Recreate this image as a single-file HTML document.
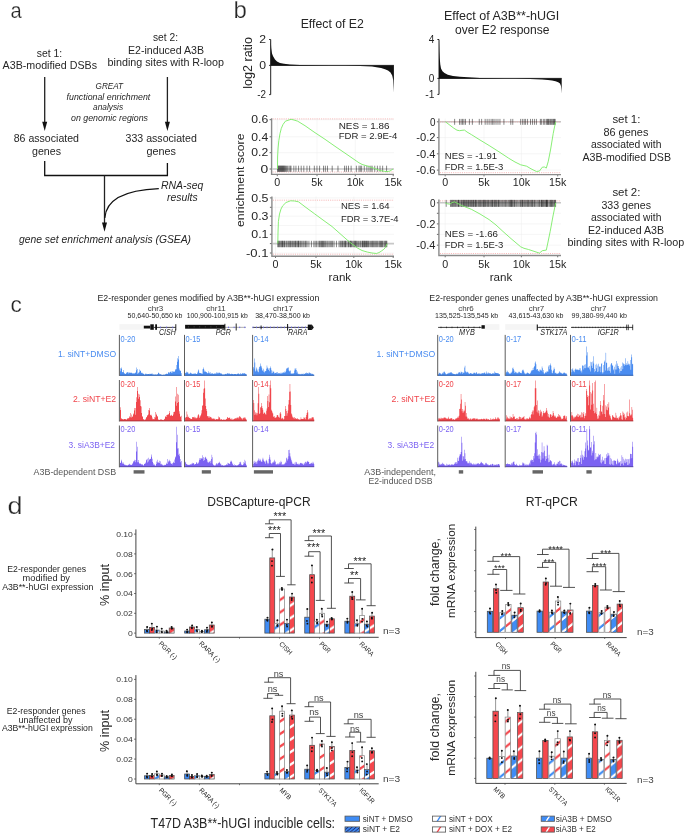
<!DOCTYPE html>
<html><head><meta charset="utf-8"><title>figure</title><style>html,body{margin:0;padding:0;background:#fff;width:685px;height:833px;overflow:hidden}svg{display:block;font-family:"Liberation Sans",sans-serif;will-change:transform;opacity:0.999}</style></head><body>
<svg width="685" height="833" viewBox="0 0 685 833" font-family="Liberation Sans, sans-serif" fill="#262626">
<style>.t{}.tb{stroke:#fff;stroke-width:0.25px}</style>
<defs><pattern id="pbdt" patternUnits="userSpaceOnUse" width="40" height="12.5" patternTransform="skewY(-33.4)"><rect width="40" height="12.5" fill="#ffffff"/><rect y="8.15" width="40" height="2.8" fill="#3f8cf5"/></pattern><pattern id="prdt" patternUnits="userSpaceOnUse" width="40" height="12.5" patternTransform="skewY(-33.4)"><rect width="40" height="12.5" fill="#ffffff"/><rect y="8.15" width="40" height="2.8" fill="#f5474d"/></pattern><pattern id="bwdt" patternUnits="userSpaceOnUse" width="40" height="12.5" patternTransform="skewY(-33.4)"><rect width="40" height="12.5" fill="#3f8cf5"/><rect y="8.15" width="40" height="2.8" fill="#ffffff"/></pattern><pattern id="rwdt" patternUnits="userSpaceOnUse" width="40" height="12.5" patternTransform="skewY(-33.4)"><rect width="40" height="12.5" fill="#f5474d"/><rect y="8.15" width="40" height="2.8" fill="#ffffff"/></pattern><pattern id="pbdb" patternUnits="userSpaceOnUse" width="40" height="12.5" patternTransform="skewY(-33.4)"><rect width="40" height="12.5" fill="#ffffff"/><rect y="4.70" width="40" height="2.8" fill="#3f8cf5"/></pattern><pattern id="prdb" patternUnits="userSpaceOnUse" width="40" height="12.5" patternTransform="skewY(-33.4)"><rect width="40" height="12.5" fill="#ffffff"/><rect y="4.70" width="40" height="2.8" fill="#f5474d"/></pattern><pattern id="bwdb" patternUnits="userSpaceOnUse" width="40" height="12.5" patternTransform="skewY(-33.4)"><rect width="40" height="12.5" fill="#3f8cf5"/><rect y="4.70" width="40" height="2.8" fill="#ffffff"/></pattern><pattern id="rwdb" patternUnits="userSpaceOnUse" width="40" height="12.5" patternTransform="skewY(-33.4)"><rect width="40" height="12.5" fill="#f5474d"/><rect y="4.70" width="40" height="2.8" fill="#ffffff"/></pattern><pattern id="pbrt" patternUnits="userSpaceOnUse" width="40" height="12.8" patternTransform="skewY(-38.7)"><rect width="40" height="12.8" fill="#ffffff"/><rect y="6.10" width="40" height="2.8" fill="#3f8cf5"/></pattern><pattern id="prrt" patternUnits="userSpaceOnUse" width="40" height="12.8" patternTransform="skewY(-38.7)"><rect width="40" height="12.8" fill="#ffffff"/><rect y="6.10" width="40" height="2.8" fill="#f5474d"/></pattern><pattern id="bwrt" patternUnits="userSpaceOnUse" width="40" height="12.8" patternTransform="skewY(-38.7)"><rect width="40" height="12.8" fill="#3f8cf5"/><rect y="6.10" width="40" height="2.8" fill="#ffffff"/></pattern><pattern id="rwrt" patternUnits="userSpaceOnUse" width="40" height="12.8" patternTransform="skewY(-38.7)"><rect width="40" height="12.8" fill="#f5474d"/><rect y="6.10" width="40" height="2.8" fill="#ffffff"/></pattern><pattern id="pbrb" patternUnits="userSpaceOnUse" width="40" height="12.8" patternTransform="skewY(-38.7)"><rect width="40" height="12.8" fill="#ffffff"/><rect y="11.50" width="40" height="2.8" fill="#3f8cf5"/><rect y="-1.30" width="40" height="2.8" fill="#3f8cf5"/></pattern><pattern id="prrb" patternUnits="userSpaceOnUse" width="40" height="12.8" patternTransform="skewY(-38.7)"><rect width="40" height="12.8" fill="#ffffff"/><rect y="11.50" width="40" height="2.8" fill="#f5474d"/><rect y="-1.30" width="40" height="2.8" fill="#f5474d"/></pattern><pattern id="bwrb" patternUnits="userSpaceOnUse" width="40" height="12.8" patternTransform="skewY(-38.7)"><rect width="40" height="12.8" fill="#3f8cf5"/><rect y="11.50" width="40" height="2.8" fill="#ffffff"/><rect y="-1.30" width="40" height="2.8" fill="#ffffff"/></pattern><pattern id="rwrb" patternUnits="userSpaceOnUse" width="40" height="12.8" patternTransform="skewY(-38.7)"><rect width="40" height="12.8" fill="#f5474d"/><rect y="11.50" width="40" height="2.8" fill="#ffffff"/><rect y="-1.30" width="40" height="2.8" fill="#ffffff"/></pattern><pattern id="lnavy" patternUnits="userSpaceOnUse" width="40" height="3.4" patternTransform="skewY(-40)"><rect width="40" height="3.4" fill="#3f8cf5"/><rect y="0.00" width="40" height="1.1" fill="#1a2a70"/></pattern><pattern id="lpb" patternUnits="userSpaceOnUse" width="40" height="30" patternTransform="skewY(-58)"><rect width="40" height="30" fill="#ffffff"/><rect y="19.79" width="40" height="2.6" fill="#3f8cf5"/></pattern><pattern id="lpr" patternUnits="userSpaceOnUse" width="40" height="30" patternTransform="skewY(-58)"><rect width="40" height="30" fill="#ffffff"/><rect y="0.59" width="40" height="2.6" fill="#f5474d"/></pattern><pattern id="lbw" patternUnits="userSpaceOnUse" width="40" height="30" patternTransform="skewY(-58)"><rect width="40" height="30" fill="#3f8cf5"/><rect y="14.06" width="40" height="2.6" fill="#ffffff"/></pattern><pattern id="lrw" patternUnits="userSpaceOnUse" width="40" height="30" patternTransform="skewY(-58)"><rect width="40" height="30" fill="#f5474d"/><rect y="24.86" width="40" height="2.6" fill="#ffffff"/></pattern></defs>
<rect width="685" height="833" fill="#ffffff"/>
<text x="10.60" y="17.80" font-size="22" textLength="11.20" lengthAdjust="spacingAndGlyphs" class="tb" >a</text>
<text x="36.80" y="57.00" font-size="10.4" textLength="25.40" lengthAdjust="spacingAndGlyphs" >set 1:</text>
<text x="2.60" y="69.30" font-size="10.4" textLength="94.40" lengthAdjust="spacingAndGlyphs" >A3B-modified DSBs</text>
<text x="153.00" y="40.80" font-size="10.4" textLength="25.00" lengthAdjust="spacingAndGlyphs" >set 2:</text>
<text x="128.00" y="53.50" font-size="10.4" textLength="76.00" lengthAdjust="spacingAndGlyphs" >E2-induced A3B</text>
<text x="107.60" y="65.80" font-size="10.4" textLength="116.40" lengthAdjust="spacingAndGlyphs" >binding sites with R-loop</text>
<text x="95.60" y="88.80" font-size="8.8" textLength="27.50" lengthAdjust="spacingAndGlyphs" font-style="italic" >GREAT</text>
<text x="66.60" y="99.60" font-size="8.8" textLength="83.70" lengthAdjust="spacingAndGlyphs" font-style="italic" >functional enrichment</text>
<text x="93.00" y="110.00" font-size="8.8" textLength="30.10" lengthAdjust="spacingAndGlyphs" font-style="italic" >analysis</text>
<text x="71.00" y="120.50" font-size="8.8" textLength="77.00" lengthAdjust="spacingAndGlyphs" font-style="italic" >on genomic regions</text>
<line x1="44.70" y1="77.00" x2="44.70" y2="123.00" stroke="#222" stroke-width="1.3" />
<path d="M42.20,121.8 L47.20,121.8 L44.70,131.0 Z" fill="#111" stroke="none" stroke-width="1" />
<line x1="167.40" y1="77.00" x2="167.40" y2="123.00" stroke="#222" stroke-width="1.3" />
<path d="M164.90,121.8 L169.90,121.8 L167.40,131.0 Z" fill="#111" stroke="none" stroke-width="1" />
<text x="13.70" y="142.40" font-size="10.4" textLength="65.30" lengthAdjust="spacingAndGlyphs" >86 associated</text>
<text x="32.00" y="155.00" font-size="10.4" textLength="29.00" lengthAdjust="spacingAndGlyphs" >genes</text>
<text x="125.60" y="142.40" font-size="10.4" textLength="71.20" lengthAdjust="spacingAndGlyphs" >333 associated</text>
<text x="146.50" y="155.00" font-size="10.4" textLength="29.50" lengthAdjust="spacingAndGlyphs" >genes</text>
<path d="M44.7,161 L44.7,175.5 L167.4,175.5 L167.4,163" fill="none" stroke="#111" stroke-width="1.3" />
<line x1="104.50" y1="175.50" x2="104.50" y2="224.00" stroke="#222" stroke-width="1.3" />
<path d="M102.0,222.6 L107.0,222.6 L104.5,231.8 Z" fill="#111" stroke="none" stroke-width="1" />
<path d="M158.8,188.6 C125,190 106,200 104.8,218" fill="none" stroke="#111" stroke-width="1.2" />
<text x="161.00" y="188.70" font-size="10.3" textLength="42.40" lengthAdjust="spacingAndGlyphs" font-style="italic" >RNA-seq</text>
<text x="167.00" y="200.60" font-size="10.3" textLength="30.70" lengthAdjust="spacingAndGlyphs" font-style="italic" >results</text>
<text x="19.00" y="243.00" font-size="10.3" textLength="172.00" lengthAdjust="spacingAndGlyphs" font-style="italic" >gene set enrichment analysis (GSEA)</text>
<text x="233.50" y="17.80" font-size="23.2" textLength="13.40" lengthAdjust="spacingAndGlyphs" class="tb" >b</text>
<text x="300.70" y="28.40" font-size="12.4" textLength="63.20" lengthAdjust="spacingAndGlyphs" class="t" >Effect of E2</text>
<text x="444.00" y="19.90" font-size="12.4" textLength="115.30" lengthAdjust="spacingAndGlyphs" class="t" >Effect of A3B**-hUGI</text>
<text x="455.00" y="33.90" font-size="12.4" textLength="94.50" lengthAdjust="spacingAndGlyphs" class="t" >over E2 response</text>
<text class="t" x="0" y="0" font-size="12.6" textLength="51.7" lengthAdjust="spacingAndGlyphs" transform="translate(251.9 88.8) rotate(-90)">log2 ratio</text>
<text class="t" x="0" y="0" font-size="11" textLength="93.3" lengthAdjust="spacingAndGlyphs" transform="translate(243.9 226.9) rotate(-90)">enrichment score</text>
<path d="M269.10,39.50 L270.70,39.50 L270.70,94.60 L269.10,94.60" fill="none" stroke="#222" stroke-width="1" />
<line x1="269.10" y1="65.40" x2="270.70" y2="65.40" stroke="#222" stroke-width="1" />
<text x="259.30" y="43.10" font-size="10.4" textLength="6.80" lengthAdjust="spacingAndGlyphs" >2</text>
<text x="259.30" y="69.00" font-size="10.4" textLength="6.80" lengthAdjust="spacingAndGlyphs" >0</text>
<text x="257.30" y="98.20" font-size="10.4" textLength="8.80" lengthAdjust="spacingAndGlyphs" >-2</text>
<path d="M270.70,65.40 L270.70,40.00 L271.20,48.00 L272.00,53.50 L273.10,56.20 L275.00,59.60 L277.00,61.50 L280.00,62.90 L284.00,63.80 L290.00,64.40 L300.00,64.90 L315.00,65.20 L330.00,65.40 L345.00,65.40 L360.00,65.90 L372.00,66.60 L378.00,67.40 L381.10,68.10 L385.00,69.30 L388.00,70.60 L390.50,72.60 L392.20,75.50 L393.20,80.00 L393.60,87.00 L393.90,92.60 L393.90,65.40 Z" fill="#111" stroke="none" stroke-width="1" />
<line x1="270.70" y1="65.40" x2="393.90" y2="65.40" stroke="#111" stroke-width="0.9" />
<path d="M437.40,39.50 L439.00,39.50 L439.00,94.40 L437.40,94.40" fill="none" stroke="#222" stroke-width="1" />
<line x1="437.40" y1="78.40" x2="439.00" y2="78.40" stroke="#222" stroke-width="1" />
<text x="428.80" y="43.10" font-size="10.4" textLength="5.60" lengthAdjust="spacingAndGlyphs" >4</text>
<text x="428.80" y="82.00" font-size="10.4" textLength="5.60" lengthAdjust="spacingAndGlyphs" >0</text>
<text x="425.20" y="97.80" font-size="10.4" textLength="9.20" lengthAdjust="spacingAndGlyphs" >-1</text>
<path d="M439.00,78.40 L439.00,40.00 L439.30,50.00 L439.70,58.00 L440.30,64.50 L441.00,68.50 L442.50,71.30 L444.50,73.00 L447.80,74.70 L453.00,75.90 L460.00,76.70 L468.00,77.30 L480.00,77.90 L495.00,78.30 L505.00,78.40 L515.00,78.40 L530.00,78.90 L542.00,79.50 L548.00,80.00 L552.00,80.60 L555.50,81.30 L558.20,82.30 L560.00,83.60 L561.00,86.00 L561.40,89.50 L561.70,93.40 L561.70,78.40 Z" fill="#111" stroke="none" stroke-width="1" />
<line x1="439.00" y1="78.40" x2="561.70" y2="78.40" stroke="#111" stroke-width="0.9" />
<line x1="271.60" y1="119.70" x2="394.00" y2="119.70" stroke="#ececec" stroke-width="0.5" />
<line x1="271.60" y1="136.80" x2="394.00" y2="136.80" stroke="#ececec" stroke-width="0.5" />
<line x1="271.60" y1="152.70" x2="394.00" y2="152.70" stroke="#ececec" stroke-width="0.5" />
<line x1="271.60" y1="169.00" x2="394.00" y2="169.00" stroke="#ececec" stroke-width="0.5" />
<line x1="277.30" y1="118.20" x2="277.30" y2="174.40" stroke="#ececec" stroke-width="0.5" />
<line x1="317.00" y1="118.20" x2="317.00" y2="174.40" stroke="#ececec" stroke-width="0.5" />
<line x1="355.30" y1="118.20" x2="355.30" y2="174.40" stroke="#ececec" stroke-width="0.5" />
<line x1="272.60" y1="169.00" x2="394.00" y2="169.00" stroke="#c8c8c8" stroke-width="1.6" />
<line x1="272.60" y1="118.90" x2="394.00" y2="118.90" stroke="#f4a8a8" stroke-width="0.8" stroke-dasharray="1.1 1.1"/>
<line x1="272.60" y1="172.00" x2="394.00" y2="172.00" stroke="#f4a8a8" stroke-width="0.8" stroke-dasharray="1.1 1.1"/>
<path d="M277.60,165.70V171.80M278.15,165.70V171.80M278.70,165.70V171.80M279.25,165.70V171.80M279.80,165.70V171.80M280.35,165.70V171.80M280.90,165.70V171.80M281.45,165.70V171.80M282.00,165.70V171.80M282.55,165.70V171.80M283.10,165.70V171.80M283.65,165.70V171.80M284.20,165.70V171.80M284.75,165.70V171.80M285.50,165.70V171.80M286.50,165.70V171.80M287.60,165.70V171.80M289.00,165.70V171.80M290.20,165.70V171.80M291.00,165.70V171.80M293.84,165.70V171.80M295.94,165.70V171.80M298.57,165.70V171.80M301.20,165.70V171.80M303.82,165.70V171.80M306.98,165.70V171.80M309.60,165.70V171.80M314.33,165.70V171.80M316.96,165.70V171.80M319.59,165.70V171.80M323.53,165.70V171.80M325.37,165.70V171.80M327.47,165.70V171.80M332.20,165.70V171.80M337.98,165.70V171.80M344.55,165.70V171.80M346.39,165.70V171.80M348.49,165.70V171.80M351.12,165.70V171.80M356.37,165.70V171.80M359.00,165.70V171.80M360.31,165.70V171.80M361.63,165.70V171.80M364.25,165.70V171.80M366.88,165.70V171.80M368.98,165.70V171.80M370.82,165.70V171.80M372.14,165.70V171.80M374.76,165.70V171.80M377.39,165.70V171.80M380.02,165.70V171.80M382.65,165.70V171.80M386.59,165.70V171.80" fill="none" stroke="#111" stroke-width="0.6" stroke-opacity="0.85"/>
<path d="M277.50,169.00 L277.60,157.00 L278.10,148.00 L278.80,140.70 L280.00,133.50 L281.30,128.40 L283.00,124.50 L285.40,121.20 L288.00,120.30 L291.10,119.30 L294.00,120.00 L297.70,121.20 L305.00,125.70 L314.00,132.00 L325.00,139.30 L335.00,146.30 L347.00,154.50 L359.00,162.80 L362.00,164.40 L368.20,166.30 L375.00,168.60 L380.00,170.50 L386.60,171.70 L390.00,171.00 L393.00,169.00" fill="none" stroke="#7cec66" stroke-width="0.9" />
<path d="M271.60,118.20 L271.60,174.40 L394.00,174.40" fill="none" stroke="#8a8a8a" stroke-width="1.4" />
<line x1="269.60" y1="119.70" x2="271.10" y2="119.70" stroke="#444" stroke-width="0.8" />
<text x="251.30" y="123.40" font-size="10.6" textLength="16.90" lengthAdjust="spacingAndGlyphs" class="t" >0.6</text>
<line x1="269.60" y1="136.80" x2="271.10" y2="136.80" stroke="#444" stroke-width="0.8" />
<text x="251.30" y="140.50" font-size="10.6" textLength="16.90" lengthAdjust="spacingAndGlyphs" class="t" >0.4</text>
<line x1="269.60" y1="152.70" x2="271.10" y2="152.70" stroke="#444" stroke-width="0.8" />
<text x="251.30" y="156.40" font-size="10.6" textLength="16.90" lengthAdjust="spacingAndGlyphs" class="t" >0.2</text>
<line x1="269.60" y1="169.00" x2="271.10" y2="169.00" stroke="#444" stroke-width="0.8" />
<text x="260.50" y="172.70" font-size="10.6" textLength="7.70" lengthAdjust="spacingAndGlyphs" class="t" >0</text>
<line x1="277.30" y1="174.90" x2="277.30" y2="176.20" stroke="#555" stroke-width="0.8" />
<text x="277.30" y="185.50" font-size="10.7" text-anchor="middle" class="t" >0</text>
<line x1="317.00" y1="174.90" x2="317.00" y2="176.20" stroke="#555" stroke-width="0.8" />
<text x="317.00" y="185.50" font-size="10.7" text-anchor="middle" class="t" >5k</text>
<line x1="355.30" y1="174.90" x2="355.30" y2="176.20" stroke="#555" stroke-width="0.8" />
<text x="355.30" y="185.50" font-size="10.7" text-anchor="middle" class="t" >10k</text>
<line x1="393.20" y1="174.90" x2="393.20" y2="176.20" stroke="#555" stroke-width="0.8" />
<text x="393.20" y="185.50" font-size="10.7" text-anchor="middle" class="t" >15k</text>
<text x="338.70" y="128.90" font-size="9.7" textLength="50.80" lengthAdjust="spacingAndGlyphs" >NES = 1.86</text>
<text x="338.70" y="139.40" font-size="9.7" textLength="58.60" lengthAdjust="spacingAndGlyphs" >FDR = 2.9E-4</text>
<line x1="271.90" y1="197.90" x2="394.00" y2="197.90" stroke="#ececec" stroke-width="0.5" />
<line x1="271.90" y1="207.30" x2="394.00" y2="207.30" stroke="#ececec" stroke-width="0.5" />
<line x1="271.90" y1="216.20" x2="394.00" y2="216.20" stroke="#ececec" stroke-width="0.5" />
<line x1="271.90" y1="225.50" x2="394.00" y2="225.50" stroke="#ececec" stroke-width="0.5" />
<line x1="271.90" y1="234.30" x2="394.00" y2="234.30" stroke="#ececec" stroke-width="0.5" />
<line x1="271.90" y1="243.60" x2="394.00" y2="243.60" stroke="#ececec" stroke-width="0.5" />
<line x1="271.90" y1="253.00" x2="394.00" y2="253.00" stroke="#ececec" stroke-width="0.5" />
<line x1="275.50" y1="196.50" x2="275.50" y2="256.20" stroke="#ececec" stroke-width="0.5" />
<line x1="316.00" y1="196.50" x2="316.00" y2="256.20" stroke="#ececec" stroke-width="0.5" />
<line x1="353.80" y1="196.50" x2="353.80" y2="256.20" stroke="#ececec" stroke-width="0.5" />
<line x1="272.90" y1="243.60" x2="394.00" y2="243.60" stroke="#c8c8c8" stroke-width="1.6" />
<line x1="272.90" y1="200.20" x2="394.00" y2="200.20" stroke="#f4a8a8" stroke-width="0.8" stroke-dasharray="1.1 1.1"/>
<line x1="272.90" y1="254.20" x2="394.00" y2="254.20" stroke="#f4a8a8" stroke-width="0.8" stroke-dasharray="1.1 1.1"/>
<path d="M277.80,240.80V247.20M278.38,240.80V247.20M279.24,240.80V247.20M279.94,240.80V247.20M280.87,240.80V247.20M281.81,240.80V247.20M282.22,240.80V247.20M282.59,240.80V247.20M283.73,240.80V247.20M284.33,240.80V247.20M284.90,240.80V247.20M286.20,240.80V247.20M286.99,240.80V247.20M288.14,240.80V247.20M288.94,240.80V247.20M289.90,240.80V247.20M290.39,240.80V247.20M291.35,240.80V247.20M292.52,240.80V247.20M293.37,240.80V247.20M294.42,240.80V247.20M295.41,240.80V247.20M295.82,240.80V247.20M296.89,240.80V247.20M297.80,240.80V247.20M298.44,240.80V247.20M298.82,240.80V247.20M299.99,240.80V247.20M300.79,240.80V247.20M301.82,240.80V247.20M303.01,240.80V247.20M304.03,240.80V247.20M305.26,240.80V247.20M305.99,240.80V247.20M307.10,240.80V247.20M308.92,240.80V247.20M311.43,240.80V247.20M313.86,240.80V247.20M315.20,240.80V247.20M316.59,240.80V247.20M318.09,240.80V247.20M319.36,240.80V247.20M320.12,240.80V247.20M321.07,240.80V247.20M321.70,240.80V247.20M322.53,240.80V247.20M323.25,240.80V247.20M323.93,240.80V247.20M324.84,240.80V247.20M325.74,240.80V247.20M326.95,240.80V247.20M327.95,240.80V247.20M329.18,240.80V247.20M330.35,240.80V247.20M331.64,240.80V247.20M332.63,240.80V247.20M334.06,240.80V247.20M336.46,240.80V247.20M339.01,240.80V247.20M340.22,240.80V247.20M341.11,240.80V247.20M342.14,240.80V247.20M342.69,240.80V247.20M343.83,240.80V247.20M344.72,240.80V247.20M345.34,240.80V247.20M345.76,240.80V247.20M346.92,240.80V247.20M348.21,240.80V247.20M348.64,240.80V247.20M349.75,240.80V247.20M350.49,240.80V247.20M350.98,240.80V247.20M351.61,240.80V247.20M352.69,240.80V247.20M353.87,240.80V247.20M354.27,240.80V247.20M355.20,240.80V247.20M355.59,240.80V247.20M356.62,240.80V247.20M357.29,240.80V247.20M358.48,240.80V247.20M359.76,240.80V247.20M360.59,240.80V247.20M361.89,240.80V247.20M362.53,240.80V247.20M362.95,240.80V247.20M363.87,240.80V247.20M364.25,240.80V247.20M364.79,240.80V247.20M365.53,240.80V247.20M366.46,240.80V247.20M366.96,240.80V247.20M367.35,240.80V247.20M368.52,240.80V247.20M369.17,240.80V247.20M370.43,240.80V247.20M371.63,240.80V247.20M372.34,240.80V247.20M373.13,240.80V247.20M373.97,240.80V247.20M374.93,240.80V247.20M375.85,240.80V247.20M376.73,240.80V247.20M377.67,240.80V247.20M378.91,240.80V247.20M379.75,240.80V247.20M380.50,240.80V247.20M381.54,240.80V247.20M382.11,240.80V247.20M382.75,240.80V247.20M384.03,240.80V247.20M384.87,240.80V247.20M385.75,240.80V247.20M386.11,240.80V247.20M386.85,240.80V247.20" fill="none" stroke="#111" stroke-width="0.6" stroke-opacity="0.85"/>
<path d="M277.80,243.60 L278.00,233.00 L278.40,221.50 L279.50,214.00 L281.00,209.00 L282.70,205.80 L286.00,202.50 L290.60,200.80 L294.50,201.00 L298.50,201.80 L306.00,207.50 L314.30,213.60 L323.00,220.00 L332.00,226.50 L341.00,234.50 L349.70,242.20 L357.60,248.10 L362.00,250.50 L367.50,252.10 L372.00,253.00 L376.40,253.50 L379.00,252.60 L381.30,251.10 L383.80,249.30 L385.60,247.20 L387.20,243.60" fill="none" stroke="#7cec66" stroke-width="0.9" />
<path d="M271.90,196.50 L271.90,256.20 L394.00,256.20" fill="none" stroke="#8a8a8a" stroke-width="1.4" />
<line x1="269.90" y1="197.90" x2="271.40" y2="197.90" stroke="#444" stroke-width="0.8" />
<text x="251.30" y="201.60" font-size="10.6" textLength="17.20" lengthAdjust="spacingAndGlyphs" class="t" >0.5</text>
<line x1="269.90" y1="207.30" x2="271.40" y2="207.30" stroke="#444" stroke-width="0.8" />
<line x1="269.90" y1="216.20" x2="271.40" y2="216.20" stroke="#444" stroke-width="0.8" />
<text x="251.30" y="219.90" font-size="10.6" textLength="17.20" lengthAdjust="spacingAndGlyphs" class="t" >0.3</text>
<line x1="269.90" y1="225.50" x2="271.40" y2="225.50" stroke="#444" stroke-width="0.8" />
<line x1="269.90" y1="234.30" x2="271.40" y2="234.30" stroke="#444" stroke-width="0.8" />
<text x="251.30" y="238.00" font-size="10.6" textLength="17.20" lengthAdjust="spacingAndGlyphs" class="t" >0.1</text>
<line x1="269.90" y1="243.60" x2="271.40" y2="243.60" stroke="#444" stroke-width="0.8" />
<line x1="269.90" y1="253.00" x2="271.40" y2="253.00" stroke="#444" stroke-width="0.8" />
<text x="246.00" y="256.70" font-size="10.6" textLength="22.50" lengthAdjust="spacingAndGlyphs" class="t" >-0.1</text>
<line x1="275.50" y1="256.70" x2="275.50" y2="258.00" stroke="#555" stroke-width="0.8" />
<text x="275.50" y="268.00" font-size="10.7" text-anchor="middle" class="t" >0</text>
<line x1="316.00" y1="256.70" x2="316.00" y2="258.00" stroke="#555" stroke-width="0.8" />
<text x="316.00" y="268.00" font-size="10.7" text-anchor="middle" class="t" >5k</text>
<line x1="353.80" y1="256.70" x2="353.80" y2="258.00" stroke="#555" stroke-width="0.8" />
<text x="353.80" y="268.00" font-size="10.7" text-anchor="middle" class="t" >10k</text>
<line x1="393.20" y1="256.70" x2="393.20" y2="258.00" stroke="#555" stroke-width="0.8" />
<text x="393.20" y="268.00" font-size="10.7" text-anchor="middle" class="t" >15k</text>
<text x="340.90" y="209.40" font-size="9.7" textLength="48.70" lengthAdjust="spacingAndGlyphs" >NES = 1.64</text>
<text x="340.90" y="221.50" font-size="9.7" textLength="57.70" lengthAdjust="spacingAndGlyphs" >FDR = 3.7E-4</text>
<line x1="438.90" y1="121.80" x2="561.00" y2="121.80" stroke="#ececec" stroke-width="0.5" />
<line x1="438.90" y1="137.60" x2="561.00" y2="137.60" stroke="#ececec" stroke-width="0.5" />
<line x1="438.90" y1="153.80" x2="561.00" y2="153.80" stroke="#ececec" stroke-width="0.5" />
<line x1="438.90" y1="170.10" x2="561.00" y2="170.10" stroke="#ececec" stroke-width="0.5" />
<line x1="445.20" y1="118.50" x2="445.20" y2="174.60" stroke="#ececec" stroke-width="0.5" />
<line x1="484.00" y1="118.50" x2="484.00" y2="174.60" stroke="#ececec" stroke-width="0.5" />
<line x1="521.40" y1="118.50" x2="521.40" y2="174.60" stroke="#ececec" stroke-width="0.5" />
<line x1="439.90" y1="121.80" x2="561.00" y2="121.80" stroke="#c8c8c8" stroke-width="1.6" />
<line x1="439.90" y1="121.90" x2="561.00" y2="121.90" stroke="#f4a8a8" stroke-width="0.8" stroke-dasharray="1.1 1.1"/>
<line x1="439.90" y1="172.70" x2="561.00" y2="172.70" stroke="#f4a8a8" stroke-width="0.8" stroke-dasharray="1.1 1.1"/>
<path d="M454.64,118.90V124.80M459.56,118.90V124.80M461.14,118.90V124.80M462.52,118.90V124.80M463.90,118.90V124.80M465.47,118.90V124.80M469.42,118.90V124.80M472.37,118.90V124.80M479.27,118.90V124.80M481.64,118.90V124.80M485.18,118.90V124.80M487.15,118.90V124.80M489.12,118.90V124.80M491.10,118.90V124.80M492.67,118.90V124.80M494.05,118.90V124.80M496.02,118.90V124.80M497.99,118.90V124.80M499.96,118.90V124.80M503.91,118.90V124.80M510.80,118.90V124.80M512.77,118.90V124.80M520.66,118.90V124.80M522.63,118.90V124.80M524.21,118.90V124.80M525.59,118.90V124.80M527.56,118.90V124.80M530.51,118.90V124.80M532.48,118.90V124.80M534.45,118.90V124.80M536.42,118.90V124.80M540.37,118.90V124.80M543.32,118.90V124.80M546.28,118.90V124.80M547.86,118.90V124.80M549.24,118.90V124.80M550.61,118.90V124.80M552.19,118.90V124.80M553.77,118.90V124.80M555.15,118.90V124.80M541.35,118.90V124.80M544.70,118.90V124.80M547.26,118.90V124.80M548.64,118.90V124.80M551.21,118.90V124.80M553.18,118.90V124.80M554.56,118.90V124.80" fill="none" stroke="#111" stroke-width="0.6" stroke-opacity="0.85"/>
<path d="M445.40,121.80 L449.00,124.50 L453.70,128.10 L457.00,130.20 L459.60,130.70 L462.00,130.30 L464.50,130.10 L467.00,132.00 L471.40,134.60 L480.00,140.00 L489.10,145.50 L499.00,151.80 L508.80,158.30 L515.00,162.00 L520.70,164.80 L526.60,166.20 L531.00,168.80 L536.40,171.50 L539.40,171.10 L542.30,167.20 L544.50,167.00 L546.30,168.10 L548.30,161.20 L550.50,150.00 L553.20,133.60 L554.50,127.00 L555.70,121.80" fill="none" stroke="#7cec66" stroke-width="0.9" />
<path d="M438.90,118.50 L438.90,174.60 L561.00,174.60" fill="none" stroke="#8a8a8a" stroke-width="1.4" />
<line x1="436.90" y1="121.80" x2="438.40" y2="121.80" stroke="#444" stroke-width="0.8" />
<text x="430.00" y="125.50" font-size="10.6" textLength="5.50" lengthAdjust="spacingAndGlyphs" class="t" >0</text>
<line x1="436.90" y1="137.60" x2="438.40" y2="137.60" stroke="#444" stroke-width="0.8" />
<text x="416.30" y="141.30" font-size="10.6" textLength="19.20" lengthAdjust="spacingAndGlyphs" class="t" >-0.2</text>
<line x1="436.90" y1="153.80" x2="438.40" y2="153.80" stroke="#444" stroke-width="0.8" />
<text x="416.30" y="157.50" font-size="10.6" textLength="19.20" lengthAdjust="spacingAndGlyphs" class="t" >-0.4</text>
<line x1="436.90" y1="170.10" x2="438.40" y2="170.10" stroke="#444" stroke-width="0.8" />
<text x="416.30" y="173.80" font-size="10.6" textLength="19.20" lengthAdjust="spacingAndGlyphs" class="t" >-0.6</text>
<line x1="445.20" y1="175.10" x2="445.20" y2="176.40" stroke="#555" stroke-width="0.8" />
<text x="445.20" y="186.00" font-size="10.7" text-anchor="middle" class="t" >0</text>
<line x1="484.00" y1="175.10" x2="484.00" y2="176.40" stroke="#555" stroke-width="0.8" />
<text x="484.00" y="186.00" font-size="10.7" text-anchor="middle" class="t" >5k</text>
<line x1="521.40" y1="175.10" x2="521.40" y2="176.40" stroke="#555" stroke-width="0.8" />
<text x="521.40" y="186.00" font-size="10.7" text-anchor="middle" class="t" >10k</text>
<line x1="557.70" y1="175.10" x2="557.70" y2="176.40" stroke="#555" stroke-width="0.8" />
<text x="557.70" y="186.00" font-size="10.7" text-anchor="middle" class="t" >15k</text>
<text x="444.80" y="158.60" font-size="9.7" textLength="52.20" lengthAdjust="spacingAndGlyphs" >NES = -1.91</text>
<text x="444.80" y="170.10" font-size="9.7" textLength="58.50" lengthAdjust="spacingAndGlyphs" >FDR = 1.5E-3</text>
<line x1="438.90" y1="202.80" x2="561.00" y2="202.80" stroke="#ececec" stroke-width="0.5" />
<line x1="438.90" y1="213.30" x2="561.00" y2="213.30" stroke="#ececec" stroke-width="0.5" />
<line x1="438.90" y1="223.90" x2="561.00" y2="223.90" stroke="#ececec" stroke-width="0.5" />
<line x1="438.90" y1="234.40" x2="561.00" y2="234.40" stroke="#ececec" stroke-width="0.5" />
<line x1="438.90" y1="245.20" x2="561.00" y2="245.20" stroke="#ececec" stroke-width="0.5" />
<line x1="445.20" y1="199.50" x2="445.20" y2="255.50" stroke="#ececec" stroke-width="0.5" />
<line x1="484.00" y1="199.50" x2="484.00" y2="255.50" stroke="#ececec" stroke-width="0.5" />
<line x1="521.40" y1="199.50" x2="521.40" y2="255.50" stroke="#ececec" stroke-width="0.5" />
<line x1="439.90" y1="202.80" x2="561.00" y2="202.80" stroke="#c8c8c8" stroke-width="1.6" />
<line x1="439.90" y1="200.90" x2="561.00" y2="200.90" stroke="#f4a8a8" stroke-width="0.8" stroke-dasharray="1.1 1.1"/>
<line x1="439.90" y1="253.50" x2="561.00" y2="253.50" stroke="#f4a8a8" stroke-width="0.8" stroke-dasharray="1.1 1.1"/>
<path d="M446.20,199.90V206.80M450.70,199.90V206.80M451.02,199.90V206.80M451.87,199.90V206.80M452.74,199.90V206.80M453.10,199.90V206.80M453.96,199.90V206.80M454.68,199.90V206.80M455.59,199.90V206.80M456.21,199.90V206.80M457.14,199.90V206.80M458.11,199.90V206.80M458.43,199.90V206.80M458.78,199.90V206.80M459.69,199.90V206.80M460.86,199.90V206.80M461.38,199.90V206.80M462.10,199.90V206.80M462.93,199.90V206.80M463.52,199.90V206.80M464.14,199.90V206.80M464.73,199.90V206.80M465.36,199.90V206.80M466.19,199.90V206.80M466.76,199.90V206.80M467.40,199.90V206.80M468.40,199.90V206.80M468.72,199.90V206.80M469.54,199.90V206.80M470.50,199.90V206.80M471.08,199.90V206.80M471.58,199.90V206.80M472.60,199.90V206.80M473.11,199.90V206.80M473.58,199.90V206.80M474.27,199.90V206.80M475.20,199.90V206.80M475.59,199.90V206.80M476.18,199.90V206.80M476.79,199.90V206.80M477.84,199.90V206.80M478.53,199.90V206.80M479.60,199.90V206.80M480.05,199.90V206.80M480.66,199.90V206.80M481.54,199.90V206.80M482.64,199.90V206.80M483.34,199.90V206.80M483.85,199.90V206.80M484.25,199.90V206.80M485.03,199.90V206.80M485.50,199.90V206.80M486.53,199.90V206.80M487.58,199.90V206.80M488.05,199.90V206.80M488.60,199.90V206.80M489.63,199.90V206.80M490.50,199.90V206.80M491.53,199.90V206.80M492.14,199.90V206.80M492.56,199.90V206.80M493.12,199.90V206.80M494.13,199.90V206.80M494.68,199.90V206.80M495.29,199.90V206.80M495.96,199.90V206.80M496.64,199.90V206.80M497.31,199.90V206.80M498.44,199.90V206.80M498.88,199.90V206.80M499.18,199.90V206.80M500.33,199.90V206.80M501.43,199.90V206.80M502.61,199.90V206.80M503.30,199.90V206.80M504.46,199.90V206.80M505.59,199.90V206.80M506.09,199.90V206.80M507.06,199.90V206.80M508.12,199.90V206.80M509.01,199.90V206.80M509.78,199.90V206.80M510.34,199.90V206.80M510.95,199.90V206.80M511.45,199.90V206.80M511.81,199.90V206.80M512.64,199.90V206.80M513.20,199.90V206.80M514.23,199.90V206.80M514.57,199.90V206.80M515.69,199.90V206.80M516.61,199.90V206.80M517.74,199.90V206.80M518.85,199.90V206.80M519.96,199.90V206.80M520.78,199.90V206.80M521.09,199.90V206.80M522.06,199.90V206.80M522.51,199.90V206.80M523.08,199.90V206.80M523.98,199.90V206.80M524.75,199.90V206.80M525.43,199.90V206.80M526.57,199.90V206.80M527.42,199.90V206.80M528.03,199.90V206.80M528.56,199.90V206.80M529.63,199.90V206.80M530.36,199.90V206.80M531.37,199.90V206.80M531.98,199.90V206.80M532.46,199.90V206.80M533.24,199.90V206.80M534.28,199.90V206.80M534.73,199.90V206.80M535.74,199.90V206.80M536.87,199.90V206.80M537.90,199.90V206.80M538.94,199.90V206.80M539.25,199.90V206.80M540.11,199.90V206.80M541.19,199.90V206.80M541.53,199.90V206.80M542.08,199.90V206.80M542.62,199.90V206.80M543.39,199.90V206.80M544.07,199.90V206.80M544.80,199.90V206.80M545.80,199.90V206.80M546.10,199.90V206.80M546.45,199.90V206.80M546.86,199.90V206.80M547.28,199.90V206.80M547.64,199.90V206.80M548.81,199.90V206.80M549.88,199.90V206.80M550.26,199.90V206.80M551.01,199.90V206.80M551.60,199.90V206.80M552.18,199.90V206.80M552.80,199.90V206.80M553.68,199.90V206.80M554.51,199.90V206.80M555.13,199.90V206.80M555.60,199.90V206.80" fill="none" stroke="#111" stroke-width="0.6" stroke-opacity="0.85"/>
<path d="M445.40,202.80 L447.50,203.80 L449.70,204.20 L452.00,202.60 L454.60,201.90 L458.00,203.60 L461.50,205.40 L466.00,207.20 L471.40,209.30 L480.00,214.00 L489.10,219.60 L496.00,225.00 L502.90,231.40 L511.00,238.60 L520.70,246.80 L524.00,248.30 L528.50,249.50 L534.00,251.30 L539.40,253.10 L542.30,250.70 L546.30,250.10 L548.00,242.00 L550.20,231.40 L553.00,216.00 L555.70,202.80" fill="none" stroke="#7cec66" stroke-width="0.9" />
<path d="M438.90,199.50 L438.90,255.50 L561.00,255.50" fill="none" stroke="#8a8a8a" stroke-width="1.4" />
<line x1="436.90" y1="202.80" x2="438.40" y2="202.80" stroke="#444" stroke-width="0.8" />
<text x="430.00" y="206.50" font-size="10.6" textLength="5.50" lengthAdjust="spacingAndGlyphs" class="t" >0</text>
<line x1="436.90" y1="213.30" x2="438.40" y2="213.30" stroke="#444" stroke-width="0.8" />
<line x1="436.90" y1="223.90" x2="438.40" y2="223.90" stroke="#444" stroke-width="0.8" />
<text x="416.30" y="227.60" font-size="10.6" textLength="19.20" lengthAdjust="spacingAndGlyphs" class="t" >-0.2</text>
<line x1="436.90" y1="234.40" x2="438.40" y2="234.40" stroke="#444" stroke-width="0.8" />
<line x1="436.90" y1="245.20" x2="438.40" y2="245.20" stroke="#444" stroke-width="0.8" />
<text x="416.30" y="248.90" font-size="10.6" textLength="19.20" lengthAdjust="spacingAndGlyphs" class="t" >-0.4</text>
<line x1="445.20" y1="256.00" x2="445.20" y2="257.30" stroke="#555" stroke-width="0.8" />
<text x="445.20" y="268.00" font-size="10.7" text-anchor="middle" class="t" >0</text>
<line x1="484.00" y1="256.00" x2="484.00" y2="257.30" stroke="#555" stroke-width="0.8" />
<text x="484.00" y="268.00" font-size="10.7" text-anchor="middle" class="t" >5k</text>
<line x1="521.40" y1="256.00" x2="521.40" y2="257.30" stroke="#555" stroke-width="0.8" />
<text x="521.40" y="268.00" font-size="10.7" text-anchor="middle" class="t" >10k</text>
<line x1="557.70" y1="256.00" x2="557.70" y2="257.30" stroke="#555" stroke-width="0.8" />
<text x="557.70" y="268.00" font-size="10.7" text-anchor="middle" class="t" >15k</text>
<text x="444.80" y="237.30" font-size="9.7" textLength="53.20" lengthAdjust="spacingAndGlyphs" >NES = -1.66</text>
<text x="444.80" y="248.20" font-size="9.7" textLength="58.50" lengthAdjust="spacingAndGlyphs" >FDR = 1.5E-3</text>
<text x="339.90" y="281.00" font-size="11.6" text-anchor="middle" class="t" >rank</text>
<text x="501.00" y="281.00" font-size="11.6" text-anchor="middle" class="t" >rank</text>
<text x="612.40" y="122.70" font-size="10.2" textLength="28.00" lengthAdjust="spacingAndGlyphs" >set 1:</text>
<text x="603.40" y="135.50" font-size="10.2" textLength="45.00" lengthAdjust="spacingAndGlyphs" >86 genes</text>
<text x="590.90" y="147.60" font-size="10.2" textLength="70.60" lengthAdjust="spacingAndGlyphs" >associated with</text>
<text x="582.40" y="160.50" font-size="10.2" textLength="88.60" lengthAdjust="spacingAndGlyphs" >A3B-modified DSB</text>
<text x="612.40" y="196.00" font-size="10.2" textLength="28.00" lengthAdjust="spacingAndGlyphs" >set 2:</text>
<text x="601.40" y="208.60" font-size="10.2" textLength="49.60" lengthAdjust="spacingAndGlyphs" >333 genes</text>
<text x="590.90" y="221.00" font-size="10.2" textLength="70.60" lengthAdjust="spacingAndGlyphs" >associated with</text>
<text x="587.90" y="233.70" font-size="10.2" textLength="76.10" lengthAdjust="spacingAndGlyphs" >E2-induced A3B</text>
<text x="567.60" y="246.00" font-size="10.2" textLength="116.70" lengthAdjust="spacingAndGlyphs" >binding sites with R-loop</text>
<text x="10.40" y="311.50" font-size="22" textLength="11.30" lengthAdjust="spacingAndGlyphs" class="tb" >c</text>
<text x="97.40" y="300.90" font-size="9.4" textLength="221.90" lengthAdjust="spacingAndGlyphs" >E2-responder genes modified by A3B**-hUGI expression</text>
<text x="429.30" y="300.90" font-size="9.4" textLength="228.70" lengthAdjust="spacingAndGlyphs" >E2-responder genes unaffected by A3B**-hUGI expression</text>
<text x="155.50" y="310.80" font-size="8.0" text-anchor="middle" fill="#3a3a3a" >chr3</text>
<text x="216.00" y="310.80" font-size="8.0" text-anchor="middle" fill="#3a3a3a" >chr11</text>
<text x="283.00" y="310.80" font-size="8.0" text-anchor="middle" fill="#3a3a3a" >chr17</text>
<text x="466.00" y="310.80" font-size="8.0" text-anchor="middle" fill="#3a3a3a" >chr6</text>
<text x="536.50" y="310.80" font-size="8.0" text-anchor="middle" fill="#3a3a3a" >chr7</text>
<text x="598.60" y="310.80" font-size="8.0" text-anchor="middle" fill="#3a3a3a" >chr7</text>
<text x="127.60" y="317.80" font-size="8.0" textLength="54.70" lengthAdjust="spacingAndGlyphs" >50,640-50,650 kb</text>
<text x="186.70" y="317.80" font-size="8.0" textLength="61.10" lengthAdjust="spacingAndGlyphs" >100,900-100,915 kb</text>
<text x="255.20" y="317.80" font-size="8.0" textLength="54.80" lengthAdjust="spacingAndGlyphs" >38,470-38,500 kb</text>
<text x="435.00" y="317.80" font-size="8.0" textLength="63.20" lengthAdjust="spacingAndGlyphs" >135,525-135,545 kb</text>
<text x="508.60" y="317.80" font-size="8.0" textLength="54.90" lengthAdjust="spacingAndGlyphs" >43,615-43,630 kb</text>
<text x="571.60" y="317.80" font-size="8.0" textLength="55.40" lengthAdjust="spacingAndGlyphs" >99,380-99,440 kb</text>
<rect x="119.40" y="324.10" width="24.40" height="5.70" fill="#f5f5f5" />
<rect x="143.80" y="325.70" width="6.50" height="2.80" fill="#111" />
<rect x="150.30" y="324.30" width="3.50" height="5.50" fill="#111" />
<rect x="155.20" y="324.30" width="1.80" height="5.50" fill="#111" />
<line x1="153.80" y1="327.40" x2="175.80" y2="327.40" stroke="#111" stroke-width="0.8" />
<line x1="160.50" y1="326.50" x2="160.50" y2="328.30" stroke="#6a6ae8" stroke-width="0.8" />
<line x1="166.60" y1="326.50" x2="166.60" y2="328.30" stroke="#6a6ae8" stroke-width="0.8" />
<line x1="172.70" y1="326.50" x2="172.70" y2="328.30" stroke="#6a6ae8" stroke-width="0.8" />
<line x1="175.80" y1="324.20" x2="175.80" y2="330.40" stroke="#111" stroke-width="0.9" />
<text x="158.90" y="334.90" font-size="8.9" textLength="16.90" lengthAdjust="spacingAndGlyphs" font-style="italic" >CISH</text>
<rect x="185.10" y="324.80" width="39.80" height="3.90" fill="#111" />
<line x1="188.50" y1="326.30" x2="188.50" y2="327.40" stroke="#777" stroke-width="0.45" />
<line x1="194.10" y1="326.30" x2="194.10" y2="327.40" stroke="#777" stroke-width="0.45" />
<line x1="199.70" y1="326.30" x2="199.70" y2="327.40" stroke="#777" stroke-width="0.45" />
<line x1="205.30" y1="326.30" x2="205.30" y2="327.40" stroke="#777" stroke-width="0.45" />
<line x1="210.90" y1="326.30" x2="210.90" y2="327.40" stroke="#777" stroke-width="0.45" />
<line x1="216.50" y1="326.30" x2="216.50" y2="327.40" stroke="#777" stroke-width="0.45" />
<line x1="222.10" y1="326.30" x2="222.10" y2="327.40" stroke="#777" stroke-width="0.45" />
<line x1="224.90" y1="327.40" x2="245.90" y2="327.40" stroke="#bbb" stroke-width="1.2" />
<line x1="228.50" y1="326.70" x2="228.50" y2="328.10" stroke="#6a6ae8" stroke-width="1.0" />
<line x1="234.10" y1="326.70" x2="234.10" y2="328.10" stroke="#6a6ae8" stroke-width="1.0" />
<line x1="239.70" y1="326.70" x2="239.70" y2="328.10" stroke="#6a6ae8" stroke-width="1.0" />
<line x1="244.80" y1="326.70" x2="244.80" y2="328.10" stroke="#6a6ae8" stroke-width="1.0" />
<line x1="224.90" y1="323.80" x2="224.90" y2="330.20" stroke="#111" stroke-width="0.9" />
<line x1="236.20" y1="323.50" x2="236.20" y2="330.50" stroke="#111" stroke-width="0.9" />
<text x="215.70" y="335.40" font-size="8.9" textLength="15.10" lengthAdjust="spacingAndGlyphs" font-style="italic" >PGR</text>
<line x1="252.60" y1="327.40" x2="313.00" y2="327.40" stroke="#111" stroke-width="0.8" />
<line x1="253.00" y1="326.60" x2="253.00" y2="328.20" stroke="#6a6ae8" stroke-width="0.9" />
<line x1="256.50" y1="326.60" x2="256.50" y2="328.20" stroke="#6a6ae8" stroke-width="0.9" />
<line x1="260.00" y1="326.60" x2="260.00" y2="328.20" stroke="#6a6ae8" stroke-width="0.9" />
<line x1="263.50" y1="326.60" x2="263.50" y2="328.20" stroke="#6a6ae8" stroke-width="0.9" />
<line x1="267.00" y1="326.60" x2="267.00" y2="328.20" stroke="#6a6ae8" stroke-width="0.9" />
<line x1="270.50" y1="326.60" x2="270.50" y2="328.20" stroke="#6a6ae8" stroke-width="0.9" />
<line x1="274.00" y1="326.60" x2="274.00" y2="328.20" stroke="#6a6ae8" stroke-width="0.9" />
<line x1="277.50" y1="326.60" x2="277.50" y2="328.20" stroke="#6a6ae8" stroke-width="0.9" />
<line x1="281.00" y1="326.60" x2="281.00" y2="328.20" stroke="#6a6ae8" stroke-width="0.9" />
<line x1="284.50" y1="326.60" x2="284.50" y2="328.20" stroke="#6a6ae8" stroke-width="0.9" />
<line x1="288.00" y1="326.60" x2="288.00" y2="328.20" stroke="#6a6ae8" stroke-width="0.9" />
<line x1="291.50" y1="326.60" x2="291.50" y2="328.20" stroke="#6a6ae8" stroke-width="0.9" />
<line x1="295.00" y1="326.60" x2="295.00" y2="328.20" stroke="#6a6ae8" stroke-width="0.9" />
<line x1="298.50" y1="326.60" x2="298.50" y2="328.20" stroke="#6a6ae8" stroke-width="0.9" />
<line x1="302.00" y1="326.60" x2="302.00" y2="328.20" stroke="#6a6ae8" stroke-width="0.9" />
<line x1="305.50" y1="326.60" x2="305.50" y2="328.20" stroke="#6a6ae8" stroke-width="0.9" />
<line x1="261.10" y1="325.50" x2="261.10" y2="329.30" stroke="#111" stroke-width="0.9" />
<line x1="287.60" y1="324.00" x2="287.60" y2="330.60" stroke="#111" stroke-width="1.0" />
<rect x="307.80" y="324.60" width="4.10" height="5.40" fill="#111" />
<path d="M311.9,324.6 L313.8,327.4 L311.9,330.0 Z" fill="#111" stroke="none" stroke-width="1" />
<text x="287.90" y="334.90" font-size="8.9" textLength="19.40" lengthAdjust="spacingAndGlyphs" font-style="italic" >RARA</text>
<line x1="438.10" y1="327.40" x2="481.50" y2="327.40" stroke="#111" stroke-width="0.8" />
<line x1="441.00" y1="326.60" x2="441.00" y2="328.20" stroke="#111" stroke-width="0.6" />
<line x1="446.50" y1="326.60" x2="446.50" y2="328.20" stroke="#111" stroke-width="0.6" />
<line x1="452.00" y1="326.60" x2="452.00" y2="328.20" stroke="#111" stroke-width="0.6" />
<line x1="457.50" y1="326.60" x2="457.50" y2="328.20" stroke="#111" stroke-width="0.6" />
<line x1="463.00" y1="326.60" x2="463.00" y2="328.20" stroke="#111" stroke-width="0.6" />
<line x1="468.50" y1="326.60" x2="468.50" y2="328.20" stroke="#111" stroke-width="0.6" />
<line x1="474.00" y1="326.60" x2="474.00" y2="328.20" stroke="#111" stroke-width="0.6" />
<line x1="479.50" y1="326.60" x2="479.50" y2="328.20" stroke="#111" stroke-width="0.6" />
<rect x="481.50" y="325.20" width="3.40" height="3.50" fill="#111" />
<rect x="484.90" y="324.10" width="14.50" height="5.80" fill="#f5f5f5" />
<text x="459.00" y="335.40" font-size="8.9" textLength="15.90" lengthAdjust="spacingAndGlyphs" font-style="italic" >MYB</text>
<rect x="505.20" y="324.10" width="32.10" height="5.80" fill="#f5f5f5" />
<line x1="537.30" y1="324.40" x2="537.30" y2="330.50" stroke="#111" stroke-width="1.1" />
<line x1="537.30" y1="327.40" x2="566.90" y2="327.40" stroke="#111" stroke-width="0.8" />
<line x1="540.00" y1="326.70" x2="540.00" y2="328.10" stroke="#111" stroke-width="0.5" />
<line x1="543.20" y1="326.70" x2="543.20" y2="328.10" stroke="#111" stroke-width="0.5" />
<line x1="546.40" y1="326.70" x2="546.40" y2="328.10" stroke="#111" stroke-width="0.5" />
<line x1="549.60" y1="326.70" x2="549.60" y2="328.10" stroke="#111" stroke-width="0.5" />
<line x1="552.80" y1="326.70" x2="552.80" y2="328.10" stroke="#111" stroke-width="0.5" />
<line x1="556.00" y1="326.70" x2="556.00" y2="328.10" stroke="#111" stroke-width="0.5" />
<line x1="559.20" y1="326.70" x2="559.20" y2="328.10" stroke="#111" stroke-width="0.5" />
<line x1="562.40" y1="326.70" x2="562.40" y2="328.10" stroke="#111" stroke-width="0.5" />
<line x1="565.60" y1="326.70" x2="565.60" y2="328.10" stroke="#111" stroke-width="0.5" />
<text x="540.30" y="335.40" font-size="8.9" textLength="27.10" lengthAdjust="spacingAndGlyphs" font-style="italic" >STK17A</text>
<line x1="571.00" y1="327.40" x2="633.00" y2="327.40" stroke="#111" stroke-width="0.8" />
<line x1="573.00" y1="326.70" x2="573.00" y2="328.10" stroke="#111" stroke-width="0.5" />
<line x1="575.80" y1="326.70" x2="575.80" y2="328.10" stroke="#111" stroke-width="0.5" />
<line x1="578.60" y1="326.70" x2="578.60" y2="328.10" stroke="#111" stroke-width="0.5" />
<line x1="581.40" y1="326.70" x2="581.40" y2="328.10" stroke="#111" stroke-width="0.5" />
<line x1="584.20" y1="326.70" x2="584.20" y2="328.10" stroke="#111" stroke-width="0.5" />
<line x1="587.00" y1="326.70" x2="587.00" y2="328.10" stroke="#111" stroke-width="0.5" />
<line x1="589.80" y1="326.70" x2="589.80" y2="328.10" stroke="#111" stroke-width="0.5" />
<line x1="592.60" y1="326.70" x2="592.60" y2="328.10" stroke="#111" stroke-width="0.5" />
<line x1="595.40" y1="326.70" x2="595.40" y2="328.10" stroke="#111" stroke-width="0.5" />
<line x1="598.20" y1="326.70" x2="598.20" y2="328.10" stroke="#111" stroke-width="0.5" />
<line x1="601.00" y1="326.70" x2="601.00" y2="328.10" stroke="#111" stroke-width="0.5" />
<line x1="603.80" y1="326.70" x2="603.80" y2="328.10" stroke="#111" stroke-width="0.5" />
<line x1="606.60" y1="326.70" x2="606.60" y2="328.10" stroke="#111" stroke-width="0.5" />
<line x1="609.40" y1="326.70" x2="609.40" y2="328.10" stroke="#111" stroke-width="0.5" />
<line x1="612.20" y1="326.70" x2="612.20" y2="328.10" stroke="#111" stroke-width="0.5" />
<line x1="615.00" y1="326.70" x2="615.00" y2="328.10" stroke="#111" stroke-width="0.5" />
<line x1="617.80" y1="326.70" x2="617.80" y2="328.10" stroke="#111" stroke-width="0.5" />
<line x1="620.60" y1="326.70" x2="620.60" y2="328.10" stroke="#111" stroke-width="0.5" />
<line x1="623.40" y1="326.70" x2="623.40" y2="328.10" stroke="#111" stroke-width="0.5" />
<line x1="626.20" y1="326.70" x2="626.20" y2="328.10" stroke="#111" stroke-width="0.5" />
<line x1="626.70" y1="324.60" x2="626.70" y2="330.20" stroke="#111" stroke-width="0.8" />
<line x1="628.30" y1="324.60" x2="628.30" y2="330.20" stroke="#111" stroke-width="0.8" />
<line x1="632.70" y1="324.60" x2="632.70" y2="330.20" stroke="#111" stroke-width="0.8" />
<text x="597.70" y="334.80" font-size="8.9" textLength="21.10" lengthAdjust="spacingAndGlyphs" font-style="italic" >IGF1R</text>
<text x="58.00" y="357.30" font-size="9.4" textLength="58.10" lengthAdjust="spacingAndGlyphs" fill="#4a8cf0" >1. siNT+DMSO</text>
<text x="73.00" y="402.00" font-size="9.4" textLength="43.10" lengthAdjust="spacingAndGlyphs" fill="#f0464c" >2. siNT+E2</text>
<text x="68.50" y="448.00" font-size="9.4" textLength="46.50" lengthAdjust="spacingAndGlyphs" fill="#7b62f2" >3. siA3B+E2</text>
<text x="376.50" y="357.30" font-size="9.4" textLength="58.70" lengthAdjust="spacingAndGlyphs" fill="#4a8cf0" >1. siNT+DMSO</text>
<text x="391.50" y="402.00" font-size="9.4" textLength="43.70" lengthAdjust="spacingAndGlyphs" fill="#f0464c" >2. siNT+E2</text>
<text x="387.50" y="448.00" font-size="9.4" textLength="46.70" lengthAdjust="spacingAndGlyphs" fill="#7b62f2" >3. siA3B+E2</text>
<text x="33.60" y="475.00" font-size="9.4" textLength="82.50" lengthAdjust="spacingAndGlyphs" fill="#555" >A3B-dependent DSB</text>
<text x="364.20" y="475.00" font-size="9.4" textLength="71.80" lengthAdjust="spacingAndGlyphs" fill="#555" >A3B-independent,</text>
<text x="368.40" y="483.50" font-size="9.4" textLength="64.10" lengthAdjust="spacingAndGlyphs" fill="#555" >E2-induced DSB</text>
<rect x="133.60" y="470.20" width="10.90" height="3.40" fill="#666" />
<rect x="201.80" y="470.20" width="9.10" height="3.40" fill="#666" />
<rect x="253.90" y="470.20" width="19.10" height="3.40" fill="#666" />
<rect x="458.80" y="470.20" width="4.40" height="3.40" fill="#666" />
<rect x="532.50" y="470.20" width="10.50" height="3.40" fill="#666" />
<rect x="586.40" y="470.20" width="5.30" height="3.40" fill="#666" />
<path d="M120.00,375.40H120.00V371.20H120.50V368.34H121.00V367.40H121.50V368.66H122.00V371.92H122.50V372.36H123.00V369.95H123.50V372.20H124.00V373.05H124.50V373.64H125.00V373.71H125.50V373.97H126.00V373.28H126.50V372.61H127.00V372.62H127.50V371.90H128.00V372.28H128.50V373.42H129.00V372.22H129.50V373.11H130.00V372.41H130.50V372.99H131.00V372.89H131.50V372.62H132.00V373.42H132.50V373.16H133.00V372.95H133.50V373.71H134.00V373.41H134.50V373.33H135.00V372.77H135.50V372.44H136.00V370.37H136.50V367.40H137.00V369.00H137.50V373.63H138.00V372.51H138.50V373.19H139.00V372.22H139.50V369.40H140.00V370.53H140.50V371.04H141.00V373.09H141.50V372.55H142.00V373.47H142.50V372.68H143.00V373.43H143.50V373.89H144.00V374.38H144.50V374.74H145.00V373.50H145.50V374.34H146.00V374.30H146.50V373.69H147.00V374.33H147.50V373.96H148.00V373.88H148.50V373.90H149.00V373.76H149.50V374.24H150.00V373.95H150.50V373.74H151.00V373.96H151.50V373.62H152.00V373.60H152.50V374.49H153.00V374.67H153.50V374.35H154.00V374.55H154.50V374.86H155.00V374.55H155.50V374.43H156.00V374.71H156.50V374.53H157.00V374.32H157.50V374.17H158.00V372.40H158.50V373.00H159.00V374.16H159.50V373.44H160.00V374.25H160.50V374.23H161.00V374.68H161.50V374.71H162.00V374.98H162.50V375.05H163.00V374.82H163.50V374.86H164.00V374.65H164.50V374.64H165.00V374.18H165.50V374.16H166.00V373.41H166.50V374.06H167.00V373.97H167.50V373.79H168.00V372.19H168.50V372.40H169.00V373.37H169.50V372.16H170.00V371.71H170.50V371.67H171.00V373.11H171.50V371.42H172.00V372.47H172.50V371.05H173.00V371.97H173.50V371.16H174.00V371.77H174.50V371.54H175.00V368.90H175.50V370.37H176.00V364.93H176.50V369.18H177.00V361.71H177.50V358.15H178.00V359.40H178.50V355.97H179.00V368.46H179.50V370.34H180.00V370.67H180.50V370.80H181.00V372.98H181.50V375.40Z" fill="#4a8cf0" stroke="none" stroke-width="1" />
<line x1="119.70" y1="375.30" x2="181.60" y2="375.30" stroke="#2a5aa8" stroke-width="0.9" />
<line x1="119.40" y1="334.90" x2="119.40" y2="375.90" stroke="#333" stroke-width="0.8" />
<text x="120.50" y="341.50" font-size="8.4" textLength="14.90" lengthAdjust="spacingAndGlyphs" fill="#4a8cf0" >0-20</text>
<path d="M120.00,421.00H120.00V407.30H120.50V410.04H121.00V418.00H121.50V418.94H122.00V419.02H122.50V419.15H123.00V419.38H123.50V419.35H124.00V418.90H124.50V419.05H125.00V419.08H125.50V419.19H126.00V419.74H126.50V419.22H127.00V418.38H127.50V418.53H128.00V417.88H128.50V418.41H129.00V416.25H129.50V417.62H130.00V417.35H130.50V413.00H131.00V414.60H131.50V417.61H132.00V416.88H132.50V416.27H133.00V414.57H133.50V413.55H134.00V408.00H134.50V410.60H135.00V414.64H135.50V408.03H136.00V402.06H136.50V397.29H137.00V391.10H137.50V387.00H138.00V393.80H138.50V398.66H139.00V396.94H139.50V394.52H140.00V400.20H140.50V406.01H141.00V406.50H141.50V412.90H142.00V415.89H142.50V417.06H143.00V419.27H143.50V419.21H144.00V420.18H144.50V419.43H145.00V419.67H145.50V418.85H146.00V417.08H146.50V417.46H147.00V415.51H147.50V415.33H148.00V414.59H148.50V409.91H149.00V408.00H149.50V410.60H150.00V415.18H150.50V414.86H151.00V414.79H151.50V416.06H152.00V417.48H152.50V419.34H153.00V419.25H153.50V418.94H154.00V419.37H154.50V417.08H155.00V417.54H155.50V412.00H156.00V413.80H156.50V415.06H157.00V415.98H157.50V416.65H158.00V419.44H158.50V419.73H159.00V420.05H159.50V419.68H160.00V420.06H160.50V419.00H161.00V419.40H161.50V419.55H162.00V419.80H162.50V420.00H163.00V420.14H163.50V419.66H164.00V419.35H164.50V418.69H165.00V416.81H165.50V416.37H166.00V414.98H166.50V417.02H167.00V414.55H167.50V414.88H168.00V414.01H168.50V414.80H169.00V411.00H169.50V413.00H170.00V415.22H170.50V415.92H171.00V415.50H171.50V414.64H172.00V415.65H172.50V415.90H173.00V412.07H173.50V414.49H174.00V411.63H174.50V411.71H175.00V401.60H175.50V396.38H176.00V405.86H176.50V387.00H177.00V393.80H177.50V403.07H178.00V394.85H178.50V401.99H179.00V411.21H179.50V413.68H180.00V416.37H180.50V416.92H181.00V415.81H181.50V421.00Z" fill="#f0464c" stroke="none" stroke-width="1" />
<line x1="119.70" y1="420.90" x2="181.60" y2="420.90" stroke="#a83035" stroke-width="0.9" />
<line x1="119.40" y1="380.00" x2="119.40" y2="421.50" stroke="#333" stroke-width="0.8" />
<text x="120.50" y="386.60" font-size="8.4" textLength="14.90" lengthAdjust="spacingAndGlyphs" fill="#f0464c" >0-20</text>
<path d="M120.00,466.80H120.00V463.08H120.50V462.82H121.00V459.80H121.50V461.20H122.00V463.81H122.50V462.52H123.00V462.40H123.50V464.07H124.00V464.96H124.50V464.28H125.00V464.82H125.50V465.27H126.00V465.50H126.50V465.07H127.00V465.42H127.50V465.18H128.00V464.79H128.50V464.75H129.00V463.80H129.50V464.40H130.00V464.60H130.50V464.88H131.00V464.91H131.50V464.72H132.00V464.20H132.50V463.32H133.00V461.02H133.50V462.30H134.00V461.32H134.50V459.80H135.00V459.88H135.50V462.31H136.00V451.49H136.50V441.80H137.00V446.80H137.50V462.19H138.00V459.99H138.50V462.19H139.00V463.24H139.50V463.73H140.00V463.73H140.50V463.60H141.00V464.50H141.50V464.13H142.00V463.88H142.50V465.01H143.00V465.20H143.50V465.57H144.00V463.92H144.50V463.72H145.00V462.43H145.50V463.41H146.00V460.19H146.50V459.60H147.00V458.85H147.50V462.61H148.00V461.38H148.50V457.80H149.00V459.18H149.50V459.76H150.00V459.03H150.50V458.72H151.00V454.50H151.50V456.80H152.00V458.80H152.50V461.96H153.00V463.21H153.50V464.84H154.00V464.15H154.50V465.25H155.00V465.67H155.50V465.47H156.00V463.96H156.50V461.61H157.00V462.51H157.50V459.68H158.00V462.64H158.50V462.20H159.00V463.06H159.50V460.80H160.00V461.17H160.50V464.16H161.00V464.44H161.50V463.70H162.00V464.44H162.50V465.13H163.00V465.18H163.50V465.44H164.00V465.15H164.50V464.63H165.00V464.71H165.50V464.92H166.00V464.07H166.50V462.75H167.00V464.07H167.50V458.95H168.00V462.33H168.50V460.68H169.00V459.80H169.50V461.20H170.00V461.26H170.50V463.16H171.00V463.91H171.50V463.43H172.00V464.47H172.50V463.11H173.00V462.71H173.50V461.69H174.00V462.92H174.50V459.38H175.00V457.41H175.50V456.52H176.00V442.33H176.50V426.80H177.00V434.80H177.50V448.43H178.00V448.35H178.50V454.77H179.00V453.72H179.50V456.28H180.00V458.89H180.50V462.16H181.00V460.88H181.50V466.80Z" fill="#7b62f2" stroke="none" stroke-width="1" />
<line x1="119.70" y1="466.70" x2="181.60" y2="466.70" stroke="#4a3aa0" stroke-width="0.9" />
<line x1="119.40" y1="425.50" x2="119.40" y2="467.30" stroke="#333" stroke-width="0.8" />
<text x="120.50" y="432.10" font-size="8.4" textLength="14.90" lengthAdjust="spacingAndGlyphs" fill="#7b62f2" >0-20</text>
<path d="M185.10,375.40H185.10V372.91H185.60V372.82H186.10V372.60H186.60V371.40H187.10V372.20H187.60V372.49H188.10V374.12H188.60V372.65H189.10V373.87H189.60V373.83H190.10V372.40H190.60V372.92H191.10V373.55H191.60V373.50H192.10V374.05H192.60V373.73H193.10V373.60H193.60V373.97H194.10V373.95H194.60V372.90H195.10V373.40H195.60V373.85H196.10V374.10H196.60V374.04H197.10V373.36H197.60V371.77H198.10V369.40H198.60V370.60H199.10V372.97H199.60V372.73H200.10V372.99H200.60V373.25H201.10V373.17H201.60V373.79H202.10V373.69H202.60V369.16H203.10V367.40H203.60V369.00H204.10V371.69H204.60V370.40H205.10V371.40H205.60V371.65H206.10V371.90H206.60V372.39H207.10V373.00H207.60V373.38H208.10V371.35H208.60V372.90H209.10V372.47H209.60V373.49H210.10V372.35H210.60V374.08H211.10V373.32H211.60V373.67H212.10V373.20H212.60V373.47H213.10V374.02H213.60V373.79H214.10V373.65H214.60V373.34H215.10V374.09H215.60V373.06H216.10V373.45H216.60V371.96H217.10V372.69H217.60V373.54H218.10V373.27H218.60V372.55H219.10V372.40H219.60V372.91H220.10V373.56H220.60V373.19H221.10V373.52H221.60V373.86H222.10V374.48H222.60V374.52H223.10V374.43H223.60V374.45H224.10V374.62H224.60V374.19H225.10V374.03H225.60V373.72H226.10V374.23H226.60V373.73H227.10V373.38H227.60V372.91H228.10V373.64H228.60V373.53H229.10V373.35H229.60V374.04H230.10V373.99H230.60V374.28H231.10V374.05H231.60V373.62H232.10V373.92H232.60V374.04H233.10V374.29H233.60V374.28H234.10V374.07H234.60V373.93H235.10V373.96H235.60V373.88H236.10V374.56H236.60V374.02H237.10V373.77H237.60V373.83H238.10V373.62H238.60V373.57H239.10V374.18H239.60V374.15H240.10V373.04H240.60V374.32H241.10V373.68H241.60V374.27H242.10V373.16H242.60V373.18H243.10V373.32H243.60V373.76H244.10V372.90H244.60V373.40H245.10V373.86H245.60V374.01H246.10V374.27H246.60V375.40Z" fill="#4a8cf0" stroke="none" stroke-width="1" />
<line x1="184.80" y1="375.30" x2="246.80" y2="375.30" stroke="#2a5aa8" stroke-width="0.9" />
<line x1="184.50" y1="334.90" x2="184.50" y2="375.90" stroke="#333" stroke-width="0.8" />
<text x="185.60" y="341.50" font-size="8.4" textLength="14.90" lengthAdjust="spacingAndGlyphs" fill="#4a8cf0" >0-15</text>
<path d="M185.10,421.00H185.10V417.92H185.60V417.07H186.10V416.97H186.60V411.49H187.10V414.60H187.60V417.35H188.10V417.24H188.60V416.39H189.10V418.06H189.60V418.07H190.10V418.79H190.60V418.41H191.10V418.93H191.60V418.96H192.10V417.35H192.60V417.00H193.10V417.26H193.60V417.34H194.10V416.72H194.60V418.32H195.10V418.32H195.60V417.02H196.10V418.25H196.60V418.28H197.10V417.62H197.60V415.55H198.10V414.00H198.60V415.03H199.10V417.94H199.60V416.48H200.10V416.31H200.60V414.93H201.10V413.57H201.60V410.23H202.10V406.08H202.60V405.03H203.10V392.87H203.60V388.75H204.10V380.60H204.60V388.20H205.10V398.50H205.60V405.95H206.10V408.94H206.60V410.99H207.10V416.21H207.60V415.93H208.10V416.24H208.60V417.75H209.10V417.48H209.60V416.01H210.10V416.88H210.60V417.35H211.10V417.53H211.60V418.53H212.10V418.97H212.60V418.21H213.10V418.48H213.60V418.75H214.10V419.29H214.60V418.59H215.10V419.41H215.60V419.69H216.10V419.02H216.60V418.92H217.10V419.01H217.60V419.51H218.10V416.62H218.60V418.78H219.10V417.00H219.60V417.80H220.10V419.46H220.60V419.51H221.10V419.29H221.60V419.14H222.10V419.99H222.60V419.77H223.10V419.72H223.60V419.29H224.10V419.38H224.60V420.05H225.10V419.80H225.60V419.52H226.10V418.95H226.60V418.77H227.10V417.00H227.60V417.42H228.10V418.11H228.60V418.16H229.10V417.83H229.60V417.45H230.10V419.17H230.60V418.87H231.10V418.54H231.60V419.83H232.10V418.74H232.60V419.96H233.10V419.21H233.60V419.32H234.10V418.88H234.60V418.33H235.10V418.12H235.60V418.71H236.10V417.81H236.60V418.43H237.10V417.13H237.60V417.94H238.10V417.21H238.60V418.52H239.10V416.00H239.60V416.73H240.10V416.70H240.60V417.38H241.10V418.08H241.60V418.87H242.10V419.60H242.60V418.25H243.10V418.19H243.60V417.62H244.10V418.19H244.60V417.00H245.10V417.80H245.60V418.90H246.10V419.39H246.60V421.00Z" fill="#f0464c" stroke="none" stroke-width="1" />
<line x1="184.80" y1="420.90" x2="246.80" y2="420.90" stroke="#a83035" stroke-width="0.9" />
<line x1="184.50" y1="380.00" x2="184.50" y2="421.50" stroke="#333" stroke-width="0.8" />
<text x="185.60" y="386.60" font-size="8.4" textLength="14.90" lengthAdjust="spacingAndGlyphs" fill="#f0464c" >0-15</text>
<path d="M185.10,466.80H185.10V461.80H185.60V462.46H186.10V463.96H186.60V464.19H187.10V464.45H187.60V465.06H188.10V464.87H188.60V464.90H189.10V465.02H189.60V464.62H190.10V464.62H190.60V464.23H191.10V464.50H191.60V463.43H192.10V463.64H192.60V462.80H193.10V463.15H193.60V463.17H194.10V464.44H194.60V464.40H195.10V464.07H195.60V463.94H196.10V462.62H196.60V462.27H197.10V464.02H197.60V463.20H198.10V463.34H198.60V461.68H199.10V459.65H199.60V458.00H200.10V459.80H200.60V457.91H201.10V458.35H201.60V458.82H202.10V455.20H202.60V458.59H203.10V457.10H203.60V461.08H204.10V460.05H204.60V457.82H205.10V456.80H205.60V457.43H206.10V459.10H206.60V458.57H207.10V462.37H207.60V460.24H208.10V462.49H208.60V462.53H209.10V462.07H209.60V461.03H210.10V460.65H210.60V463.25H211.10V459.09H211.60V454.80H212.10V457.20H212.60V463.74H213.10V464.79H213.60V465.31H214.10V465.41H214.60V465.42H215.10V465.48H215.60V464.38H216.10V462.98H216.60V464.13H217.10V464.40H217.60V463.40H218.10V462.69H218.60V463.23H219.10V461.80H219.60V462.80H220.10V464.13H220.60V463.56H221.10V465.60H221.60V464.87H222.10V465.11H222.60V465.45H223.10V465.23H223.60V465.90H224.10V465.19H224.60V465.53H225.10V465.22H225.60V465.07H226.10V464.63H226.60V464.03H227.10V464.88H227.60V462.81H228.10V463.16H228.60V463.50H229.10V463.65H229.60V463.97H230.10V462.11H230.60V460.84H231.10V460.80H231.60V462.00H232.10V464.21H232.60V463.25H233.10V464.88H233.60V465.44H234.10V464.21H234.60V465.73H235.10V465.00H235.60V465.27H236.10V465.52H236.60V465.41H237.10V465.14H237.60V465.29H238.10V465.10H238.60V464.10H239.10V462.37H239.60V463.94H240.10V461.80H240.60V462.51H241.10V464.63H241.60V464.49H242.10V465.04H242.60V465.29H243.10V464.16H243.60V461.99H244.10V463.37H244.60V459.80H245.10V461.20H245.60V463.68H246.10V465.00H246.60V466.80Z" fill="#7b62f2" stroke="none" stroke-width="1" />
<line x1="184.80" y1="466.70" x2="246.80" y2="466.70" stroke="#4a3aa0" stroke-width="0.9" />
<line x1="184.50" y1="425.50" x2="184.50" y2="467.30" stroke="#333" stroke-width="0.8" />
<text x="185.60" y="432.10" font-size="8.4" textLength="14.90" lengthAdjust="spacingAndGlyphs" fill="#7b62f2" >0-15</text>
<path d="M253.20,375.40H253.20V367.10H253.70V368.44H254.20V358.55H254.70V362.60H255.20V371.46H255.70V370.39H256.20V367.40H256.70V368.66H257.20V370.44H257.70V371.79H258.20V372.37H258.70V368.71H259.20V366.92H259.70V366.38H260.20V363.40H260.70V365.80H261.20V366.62H261.70V368.37H262.20V370.40H262.70V370.50H263.20V368.68H263.70V372.02H264.20V372.38H264.70V370.63H265.20V371.26H265.70V371.09H266.20V368.86H266.70V365.40H267.20V367.40H267.70V368.62H268.20V369.93H268.70V368.45H269.20V371.32H269.70V367.95H270.20V366.40H270.70V368.20H271.20V370.18H271.70V373.15H272.20V372.75H272.70V370.80H273.20V371.78H273.70V371.76H274.20V373.50H274.70V373.05H275.20V373.01H275.70V372.77H276.20V372.27H276.70V373.43H277.20V372.03H277.70V373.74H278.20V373.32H278.70V373.06H279.20V373.37H279.70V373.49H280.20V372.67H280.70V373.94H281.20V373.29H281.70V372.62H282.20V373.35H282.70V372.59H283.20V372.24H283.70V372.79H284.20V371.58H284.70V373.12H285.20V371.95H285.70V370.70H286.20V368.63H286.70V368.24H287.20V368.31H287.70V367.40H288.20V367.43H288.70V370.48H289.20V371.52H289.70V370.81H290.20V370.54H290.70V373.50H291.20V373.83H291.70V373.36H292.20V373.47H292.70V373.87H293.20V373.53H293.70V373.01H294.20V370.55H294.70V368.51H295.20V369.40H295.70V367.90H296.20V369.91H296.70V372.75H297.20V371.50H297.70V373.65H298.20V373.69H298.70V374.22H299.20V374.31H299.70V373.71H300.20V374.49H300.70V373.97H301.20V373.86H301.70V374.54H302.20V373.83H302.70V374.09H303.20V374.39H303.70V373.35H304.20V373.92H304.70V374.10H305.20V373.05H305.70V373.27H306.20V372.42H306.70V373.61H307.20V373.09H307.70V373.33H308.20V373.83H308.70V372.44H309.20V372.62H309.70V373.25H310.20V372.96H310.70V373.68H311.20V374.14H311.70V373.25H312.20V373.88H312.70V374.27H313.20V374.58H313.70V374.68H314.20V375.40Z" fill="#4a8cf0" stroke="none" stroke-width="1" />
<line x1="252.90" y1="375.30" x2="314.20" y2="375.30" stroke="#2a5aa8" stroke-width="0.9" />
<line x1="252.60" y1="334.90" x2="252.60" y2="375.90" stroke="#333" stroke-width="0.8" />
<text x="253.70" y="341.50" font-size="8.4" textLength="14.90" lengthAdjust="spacingAndGlyphs" fill="#4a8cf0" >0-14</text>
<path d="M253.20,421.00H253.20V400.00H253.70V403.07H254.20V410.35H254.70V414.96H255.20V412.34H255.70V413.68H256.20V412.78H256.70V415.24H257.20V413.21H257.70V403.32H258.20V387.00H258.70V393.80H259.20V413.99H259.70V413.16H260.20V407.18H260.70V407.52H261.20V403.00H261.70V405.99H262.20V408.09H262.70V409.80H263.20V414.05H263.70V412.81H264.20V412.45H264.70V412.71H265.20V414.00H265.70V414.81H266.20V410.71H266.70V408.59H267.20V396.00H267.70V401.00H268.20V406.91H268.70V394.40H269.20V402.30H269.70V384.96H270.20V380.60H270.70V388.20H271.20V409.79H271.70V411.03H272.20V412.53H272.70V413.62H273.20V416.50H273.70V416.92H274.20V415.96H274.70V417.89H275.20V417.71H275.70V417.33H276.20V417.34H276.70V415.37H277.20V415.00H277.70V415.21H278.20V416.67H278.70V417.32H279.20V417.64H279.70V413.37H280.20V412.00H280.70V413.80H281.20V418.59H281.70V418.83H282.20V417.72H282.70V418.13H283.20V419.54H283.70V419.01H284.20V416.00H284.70V415.96H285.20V406.00H285.70V409.00H286.20V411.05H286.70V415.84H287.20V413.20H287.70V410.47H288.20V404.45H288.70V400.10H289.20V391.69H289.70V384.00H290.20V391.40H290.70V404.89H291.20V413.39H291.70V414.53H292.20V416.55H292.70V417.57H293.20V417.42H293.70V418.42H294.20V417.04H294.70V418.81H295.20V418.22H295.70V417.92H296.20V418.89H296.70V419.07H297.20V417.98H297.70V419.14H298.20V418.91H298.70V419.47H299.20V419.79H299.70V419.26H300.20V419.59H300.70V417.26H301.20V418.98H301.70V418.85H302.20V418.90H302.70V418.90H303.20V418.83H303.70V417.00H304.20V417.80H304.70V418.44H305.20V419.13H305.70V416.98H306.20V415.11H306.70V412.92H307.20V410.00H307.70V412.20H308.20V419.20H308.70V419.47H309.20V418.24H309.70V418.81H310.20V418.00H310.70V419.33H311.20V418.24H311.70V417.27H312.20V417.48H312.70V417.00H313.20V417.53H313.70V419.28H314.20V421.00Z" fill="#f0464c" stroke="none" stroke-width="1" />
<line x1="252.90" y1="420.90" x2="314.20" y2="420.90" stroke="#a83035" stroke-width="0.9" />
<line x1="252.60" y1="380.00" x2="252.60" y2="421.50" stroke="#333" stroke-width="0.8" />
<text x="253.70" y="386.60" font-size="8.4" textLength="14.90" lengthAdjust="spacingAndGlyphs" fill="#f0464c" >0-14</text>
<path d="M253.20,466.80H253.20V463.93H253.70V461.55H254.20V463.12H254.70V460.80H255.20V462.00H255.70V463.52H256.20V461.63H256.70V463.80H257.20V460.52H257.70V461.19H258.20V458.56H258.70V460.12H259.20V461.01H259.70V458.80H260.20V459.79H260.70V461.34H261.20V461.57H261.70V462.03H262.20V459.44H262.70V457.80H263.20V459.60H263.70V461.04H264.20V461.62H264.70V462.37H265.20V463.73H265.70V460.65H266.20V459.80H266.70V461.20H267.20V462.75H267.70V464.34H268.20V463.15H268.70V458.90H269.20V454.80H269.70V457.20H270.20V459.69H270.70V463.03H271.20V463.38H271.70V464.14H272.20V462.49H272.70V462.48H273.20V461.41H273.70V462.64H274.20V459.80H274.70V461.20H275.20V461.66H275.70V464.58H276.20V463.94H276.70V464.99H277.20V463.64H277.70V463.40H278.20V464.39H278.70V463.58H279.20V462.34H279.70V464.25H280.20V462.54H280.70V460.80H281.20V462.00H281.70V464.73H282.20V464.10H282.70V465.05H283.20V463.89H283.70V464.74H284.20V463.70H284.70V463.38H285.20V461.71H285.70V463.08H286.20V458.32H286.70V457.52H287.20V460.56H287.70V459.06H288.20V449.93H288.70V456.29H289.20V449.80H289.70V453.20H290.20V456.58H290.70V458.52H291.20V460.37H291.70V461.81H292.20V463.83H292.70V463.40H293.20V463.99H293.70V463.78H294.20V464.68H294.70V462.53H295.20V464.53H295.70V461.80H296.20V462.26H296.70V463.78H297.20V464.22H297.70V463.63H298.20V463.75H298.70V464.99H299.20V464.18H299.70V463.53H300.20V463.04H300.70V462.80H301.20V463.14H301.70V463.55H302.20V463.46H302.70V464.29H303.20V464.98H303.70V463.59H304.20V462.78H304.70V464.32H305.20V461.98H305.70V461.60H306.20V463.21H306.70V462.04H307.20V461.14H307.70V460.80H308.20V461.97H308.70V461.98H309.20V464.12H309.70V463.99H310.20V463.21H310.70V463.99H311.20V462.68H311.70V463.08H312.20V463.72H312.70V461.80H313.20V462.80H313.70V463.90H314.20V466.80Z" fill="#7b62f2" stroke="none" stroke-width="1" />
<line x1="252.90" y1="466.70" x2="314.20" y2="466.70" stroke="#4a3aa0" stroke-width="0.9" />
<line x1="252.60" y1="425.50" x2="252.60" y2="467.30" stroke="#333" stroke-width="0.8" />
<text x="253.70" y="432.10" font-size="8.4" textLength="14.90" lengthAdjust="spacingAndGlyphs" fill="#7b62f2" >0-14</text>
<path d="M438.30,375.40H438.30V373.89H438.80V372.40H439.30V373.00H439.80V373.39H440.30V373.37H440.80V374.19H441.30V374.48H441.80V373.49H442.30V372.81H442.80V373.63H443.30V372.26H443.80V371.40H444.30V371.77H444.80V372.84H445.30V373.61H445.80V374.40H446.30V374.30H446.80V374.06H447.30V373.44H447.80V373.39H448.30V373.37H448.80V372.39H449.30V373.30H449.80V372.80H450.30V372.43H450.80V371.90H451.30V372.39H451.80V373.34H452.30V373.51H452.80V373.42H453.30V374.07H453.80V373.93H454.30V374.04H454.80V374.46H455.30V374.25H455.80V373.88H456.30V373.43H456.80V374.19H457.30V373.70H457.80V373.49H458.30V372.53H458.80V372.53H459.30V372.01H459.80V372.82H460.30V373.41H460.80V371.40H461.30V372.20H461.80V372.14H462.30V373.64H462.80V371.99H463.30V373.01H463.80V372.64H464.30V367.40H464.80V365.75H465.30V371.32H465.80V372.34H466.30V372.49H466.80V371.55H467.30V372.30H467.80V372.33H468.30V373.36H468.80V373.49H469.30V373.93H469.80V373.17H470.30V372.93H470.80V373.29H471.30V373.41H471.80V373.86H472.30V373.73H472.80V373.95H473.30V372.67H473.80V372.99H474.30V372.40H474.80V372.97H475.30V373.72H475.80V372.71H476.30V371.98H476.80V373.37H477.30V374.11H477.80V373.67H478.30V373.29H478.80V373.71H479.30V373.16H479.80V374.13H480.30V373.82H480.80V373.34H481.30V373.67H481.80V373.36H482.30V373.18H482.80V373.10H483.30V373.61H483.80V372.82H484.30V372.61H484.80V372.76H485.30V373.96H485.80V373.39H486.30V371.51H486.80V373.35H487.30V373.66H487.80V372.40H488.30V372.71H488.80V373.98H489.30V373.12H489.80V373.07H490.30V373.49H490.80V373.82H491.30V374.03H491.80V373.84H492.30V373.22H492.80V373.30H493.30V373.16H493.80V373.97H494.30V371.56H494.80V373.03H495.30V372.40H495.80V372.88H496.30V373.11H496.80V373.34H497.30V372.99H497.80V373.40H498.30V373.20H498.80V374.21H499.30V374.08H499.80V375.40Z" fill="#4a8cf0" stroke="none" stroke-width="1" />
<line x1="438.00" y1="375.30" x2="499.90" y2="375.30" stroke="#2a5aa8" stroke-width="0.9" />
<line x1="437.70" y1="334.90" x2="437.70" y2="375.90" stroke="#333" stroke-width="0.8" />
<text x="438.80" y="341.50" font-size="8.4" textLength="14.90" lengthAdjust="spacingAndGlyphs" fill="#4a8cf0" >0-20</text>
<path d="M438.30,421.00H438.30V418.43H438.80V418.25H439.30V418.68H439.80V417.67H440.30V418.71H440.80V419.33H441.30V417.75H441.80V418.21H442.30V418.55H442.80V418.07H443.30V418.59H443.80V417.34H444.30V417.79H444.80V417.58H445.30V417.66H445.80V418.57H446.30V418.53H446.80V418.48H447.30V419.09H447.80V417.96H448.30V416.79H448.80V418.99H449.30V418.68H449.80V418.67H450.30V418.48H450.80V418.04H451.30V418.28H451.80V418.54H452.30V419.70H452.80V419.30H453.30V418.89H453.80V419.80H454.30V419.65H454.80V419.51H455.30V418.69H455.80V418.37H456.30V418.45H456.80V418.37H457.30V417.51H457.80V416.54H458.30V417.74H458.80V415.76H459.30V409.04H459.80V408.73H460.30V403.71H460.80V394.00H461.30V399.40H461.80V411.30H462.30V408.98H462.80V412.89H463.30V411.40H463.80V409.77H464.30V411.18H464.80V402.00H465.30V405.80H465.80V416.55H466.30V413.04H466.80V416.77H467.30V418.64H467.80V418.34H468.30V418.54H468.80V419.48H469.30V419.40H469.80V418.38H470.30V418.57H470.80V419.41H471.30V419.41H471.80V418.61H472.30V418.92H472.80V418.31H473.30V418.17H473.80V418.99H474.30V418.00H474.80V418.57H475.30V419.39H475.80V418.52H476.30V418.80H476.80V418.91H477.30V418.54H477.80V419.85H478.30V419.28H478.80V419.26H479.30V419.15H479.80V419.46H480.30V419.31H480.80V418.92H481.30V418.68H481.80V419.15H482.30V419.36H482.80V419.34H483.30V418.87H483.80V418.50H484.30V419.00H484.80V419.28H485.30V419.70H485.80V418.62H486.30V418.84H486.80V418.87H487.30V419.51H487.80V419.57H488.30V418.95H488.80V419.49H489.30V419.90H489.80V419.91H490.30V418.15H490.80V419.54H491.30V419.63H491.80V418.71H492.30V419.31H492.80V419.43H493.30V418.44H493.80V419.14H494.30V419.16H494.80V418.95H495.30V417.34H495.80V418.41H496.30V419.29H496.80V419.35H497.30V417.65H497.80V416.93H498.30V418.15H498.80V418.83H499.30V418.87H499.80V421.00Z" fill="#f0464c" stroke="none" stroke-width="1" />
<line x1="438.00" y1="420.90" x2="499.90" y2="420.90" stroke="#a83035" stroke-width="0.9" />
<line x1="437.70" y1="380.00" x2="437.70" y2="421.50" stroke="#333" stroke-width="0.8" />
<text x="438.80" y="386.60" font-size="8.4" textLength="14.90" lengthAdjust="spacingAndGlyphs" fill="#f0464c" >0-20</text>
<path d="M438.30,466.80H438.30V461.80H438.80V462.51H439.30V464.22H439.80V465.01H440.30V464.44H440.80V463.82H441.30V464.22H441.80V464.41H442.30V462.80H442.80V463.51H443.30V463.97H443.80V464.64H444.30V464.60H444.80V465.67H445.30V465.23H445.80V465.44H446.30V463.76H446.80V465.64H447.30V464.41H447.80V464.69H448.30V464.92H448.80V464.35H449.30V464.55H449.80V465.26H450.30V465.22H450.80V464.29H451.30V464.52H451.80V464.81H452.30V464.27H452.80V465.08H453.30V464.67H453.80V464.29H454.30V463.77H454.80V462.56H455.30V462.19H455.80V463.94H456.30V461.94H456.80V463.52H457.30V457.81H457.80V460.71H458.30V461.10H458.80V457.50H459.30V455.81H459.80V454.02H460.30V454.62H460.80V451.94H461.30V436.80H461.80V442.80H462.30V460.77H462.80V456.11H463.30V456.51H463.80V459.55H464.30V449.80H464.80V453.20H465.30V458.94H465.80V461.25H466.30V461.15H466.80V461.31H467.30V462.83H467.80V463.79H468.30V462.82H468.80V463.07H469.30V461.23H469.80V464.38H470.30V462.77H470.80V462.82H471.30V463.59H471.80V464.28H472.30V464.15H472.80V464.96H473.30V463.45H473.80V463.85H474.30V464.48H474.80V464.64H475.30V463.87H475.80V465.04H476.30V463.74H476.80V463.94H477.30V463.23H477.80V463.76H478.30V463.02H478.80V464.57H479.30V464.06H479.80V463.81H480.30V463.00H480.80V461.80H481.30V462.27H481.80V463.17H482.30V463.27H482.80V463.60H483.30V464.54H483.80V464.40H484.30V464.64H484.80V464.70H485.30V463.30H485.80V462.80H486.30V463.60H486.80V464.47H487.30V464.62H487.80V464.16H488.30V465.30H488.80V465.32H489.30V465.36H489.80V464.99H490.30V464.27H490.80V464.55H491.30V465.40H491.80V463.91H492.30V463.80H492.80V464.00H493.30V465.38H493.80V465.36H494.30V464.57H494.80V465.27H495.30V464.79H495.80V464.87H496.30V464.18H496.80V465.50H497.30V464.46H497.80V464.30H498.30V463.96H498.80V464.07H499.30V465.20H499.80V466.80Z" fill="#7b62f2" stroke="none" stroke-width="1" />
<line x1="438.00" y1="466.70" x2="499.90" y2="466.70" stroke="#4a3aa0" stroke-width="0.9" />
<line x1="437.70" y1="425.50" x2="437.70" y2="467.30" stroke="#333" stroke-width="0.8" />
<text x="438.80" y="432.10" font-size="8.4" textLength="14.90" lengthAdjust="spacingAndGlyphs" fill="#7b62f2" >0-20</text>
<path d="M505.80,375.40H505.80V372.81H506.30V371.97H506.80V370.40H507.30V371.40H507.80V372.43H508.30V371.96H508.80V373.23H509.30V373.81H509.80V373.14H510.30V373.69H510.80V372.45H511.30V372.84H511.80V371.38H512.30V368.15H512.80V367.40H513.30V369.00H513.80V370.42H514.30V372.93H514.80V371.53H515.30V372.18H515.80V372.45H516.30V372.57H516.80V373.50H517.30V372.72H517.80V373.33H518.30V372.32H518.80V371.40H519.30V372.17H519.80V372.58H520.30V372.94H520.80V372.88H521.30V373.28H521.80V371.29H522.30V369.94H522.80V369.40H523.30V370.60H523.80V371.70H524.30V373.15H524.80V373.53H525.30V374.18H525.80V373.36H526.30V373.74H526.80V372.67H527.30V372.40H527.80V373.00H528.30V373.31H528.80V373.43H529.30V374.09H529.80V373.40H530.30V372.79H530.80V371.55H531.30V370.48H531.80V370.29H532.30V370.22H532.80V367.91H533.30V370.00H533.80V366.89H534.30V365.92H534.80V362.69H535.30V361.40H535.80V364.20H536.30V369.76H536.80V368.97H537.30V368.90H537.80V370.80H538.30V371.30H538.80V370.35H539.30V371.79H539.80V369.32H540.30V369.96H540.80V371.01H541.30V370.17H541.80V366.40H542.30V368.20H542.80V372.17H543.30V370.00H543.80V373.39H544.30V373.66H544.80V373.06H545.30V372.36H545.80V371.79H546.30V372.75H546.80V371.00H547.30V371.63H547.80V371.68H548.30V366.62H548.80V365.32H549.30V369.37H549.80V365.06H550.30V363.40H550.80V365.80H551.30V369.69H551.80V372.83H552.30V373.20H552.80V370.93H553.30V369.77H553.80V367.40H554.30V369.00H554.80V373.15H555.30V372.72H555.80V372.82H556.30V373.87H556.80V373.78H557.30V373.42H557.80V373.80H558.30V373.07H558.80V372.54H559.30V371.27H559.80V372.20H560.30V372.79H560.80V372.64H561.30V373.09H561.80V373.98H562.30V373.44H562.80V373.45H563.30V372.84H563.80V372.80H564.30V372.40H564.80V373.00H565.30V373.53H565.80V373.80H566.30V373.49H566.80V375.40Z" fill="#4a8cf0" stroke="none" stroke-width="1" />
<line x1="505.50" y1="375.30" x2="567.30" y2="375.30" stroke="#2a5aa8" stroke-width="0.9" />
<line x1="505.20" y1="334.90" x2="505.20" y2="375.90" stroke="#333" stroke-width="0.8" />
<text x="506.30" y="341.50" font-size="8.4" textLength="14.90" lengthAdjust="spacingAndGlyphs" fill="#4a8cf0" >0-17</text>
<path d="M505.80,421.00H505.80V419.30H506.30V415.13H506.80V417.64H507.30V416.73H507.80V418.66H508.30V418.26H508.80V418.58H509.30V418.65H509.80V416.19H510.30V418.57H510.80V417.08H511.30V417.15H511.80V418.61H512.30V418.00H512.80V414.04H513.30V417.00H513.80V416.26H514.30V416.71H514.80V419.04H515.30V419.10H515.80V418.66H516.30V418.08H516.80V419.49H517.30V418.08H517.80V419.22H518.30V419.21H518.80V417.00H519.30V416.57H519.80V418.94H520.30V417.12H520.80V417.61H521.30V418.90H521.80V418.08H522.30V417.46H522.80V417.48H523.30V417.00H523.80V416.10H524.30V419.32H524.80V418.81H525.30V419.50H525.80V419.49H526.30V418.30H526.80V418.90H527.30V418.02H527.80V419.25H528.30V419.12H528.80V418.31H529.30V416.78H529.80V417.77H530.30V418.46H530.80V415.10H531.30V413.96H531.80V412.01H532.30V410.49H532.80V414.44H533.30V410.55H533.80V407.30H534.30V405.85H534.80V388.15H535.30V380.60H535.80V388.20H536.30V405.02H536.80V411.65H537.30V400.55H537.80V413.29H538.30V410.20H538.80V410.75H539.30V415.82H539.80V413.54H540.30V409.76H540.80V411.81H541.30V411.61H541.80V416.75H542.30V415.50H542.80V413.28H543.30V411.00H543.80V413.00H544.30V413.15H544.80V412.14H545.30V412.50H545.80V410.84H546.30V408.00H546.80V410.60H547.30V412.81H547.80V416.61H548.30V413.89H548.80V417.26H549.30V417.78H549.80V414.48H550.30V413.89H550.80V414.69H551.30V417.05H551.80V414.63H552.30V416.00H552.80V411.00H553.30V413.00H553.80V415.34H554.30V416.22H554.80V416.88H555.30V415.71H555.80V417.67H556.30V418.01H556.80V417.23H557.30V416.13H557.80V416.73H558.30V414.10H558.80V416.63H559.30V415.00H559.80V415.87H560.30V416.63H560.80V417.64H561.30V419.27H561.80V418.65H562.30V419.06H562.80V418.15H563.30V415.97H563.80V415.78H564.30V415.58H564.80V415.83H565.30V418.76H565.80V417.39H566.30V416.12H566.80V421.00Z" fill="#f0464c" stroke="none" stroke-width="1" />
<line x1="505.50" y1="420.90" x2="567.30" y2="420.90" stroke="#a83035" stroke-width="0.9" />
<line x1="505.20" y1="380.00" x2="505.20" y2="421.50" stroke="#333" stroke-width="0.8" />
<text x="506.30" y="386.60" font-size="8.4" textLength="14.90" lengthAdjust="spacingAndGlyphs" fill="#f0464c" >0-17</text>
<path d="M505.80,466.80H505.80V464.13H506.30V464.00H506.80V464.10H507.30V463.37H507.80V464.19H508.30V464.03H508.80V464.36H509.30V464.11H509.80V464.35H510.30V464.69H510.80V465.15H511.30V463.47H511.80V462.83H512.30V464.48H512.80V462.15H513.30V461.80H513.80V461.48H514.30V464.01H514.80V465.15H515.30V465.05H515.80V464.55H516.30V463.74H516.80V465.55H517.30V465.27H517.80V465.81H518.30V465.64H518.80V465.78H519.30V464.46H519.80V465.59H520.30V465.58H520.80V465.09H521.30V465.49H521.80V465.48H522.30V462.62H522.80V463.82H523.30V462.80H523.80V463.60H524.30V465.53H524.80V463.73H525.30V465.07H525.80V465.81H526.30V464.55H526.80V464.45H527.30V464.81H527.80V465.66H528.30V464.81H528.80V464.18H529.30V462.69H529.80V464.47H530.30V460.26H530.80V461.35H531.30V459.44H531.80V460.09H532.30V460.12H532.80V462.10H533.30V455.91H533.80V458.44H534.30V453.15H534.80V442.42H535.30V433.04H535.80V431.80H536.30V434.48H536.80V455.78H537.30V449.36H537.80V456.06H538.30V454.76H538.80V458.63H539.30V454.34H539.80V455.79H540.30V462.38H540.80V459.76H541.30V451.97H541.80V442.42H542.30V452.40H542.80V458.44H543.30V452.44H543.80V446.32H544.30V450.80H544.80V456.16H545.30V460.71H545.80V456.10H546.30V458.93H546.80V444.80H547.30V445.69H547.80V458.14H548.30V462.27H548.80V454.87H549.30V462.00H549.80V460.58H550.30V460.03H550.80V460.95H551.30V461.51H551.80V464.57H552.30V465.26H552.80V463.75H553.30V464.60H553.80V464.09H554.30V462.18H554.80V465.27H555.30V464.40H555.80V465.74H556.30V464.29H556.80V463.36H557.30V464.03H557.80V461.81H558.30V461.99H558.80V464.67H559.30V460.80H559.80V460.94H560.30V463.63H560.80V464.17H561.30V463.37H561.80V464.28H562.30V465.66H562.80V464.43H563.30V464.94H563.80V465.53H564.30V465.02H564.80V465.20H565.30V465.71H565.80V465.56H566.30V465.73H566.80V466.80Z" fill="#7b62f2" stroke="none" stroke-width="1" />
<line x1="505.50" y1="466.70" x2="567.30" y2="466.70" stroke="#4a3aa0" stroke-width="0.9" />
<line x1="505.20" y1="425.50" x2="505.20" y2="467.30" stroke="#333" stroke-width="0.8" />
<text x="506.30" y="432.10" font-size="8.4" textLength="14.90" lengthAdjust="spacingAndGlyphs" fill="#7b62f2" >0-17</text>
<path d="M571.10,375.40H571.10V369.37H571.60V372.24H572.10V369.48H572.60V368.25H573.10V370.52H573.60V371.57H574.10V372.23H574.60V369.81H575.10V369.54H575.60V368.49H576.10V369.68H576.60V369.47H577.10V369.74H577.60V369.47H578.10V369.80H578.60V370.28H579.10V368.30H579.60V370.03H580.10V368.22H580.60V371.35H581.10V370.46H581.60V372.52H582.10V365.61H582.60V365.43H583.10V365.69H583.60V369.48H584.10V364.65H584.60V368.04H585.10V364.32H585.60V368.32H586.10V346.47H586.60V355.40H587.10V352.34H587.60V367.52H588.10V366.76H588.60V367.97H589.10V365.94H589.60V369.62H590.10V371.62H590.60V361.76H591.10V362.21H591.60V365.66H592.10V368.07H592.60V361.40H593.10V356.16H593.60V363.40H594.10V368.92H594.60V372.35H595.10V370.99H595.60V364.67H596.10V368.16H596.60V363.65H597.10V371.98H597.60V365.45H598.10V363.86H598.60V371.40H599.10V366.25H599.60V367.01H600.10V366.60H600.60V372.29H601.10V364.08H601.60V363.08H602.10V372.17H602.60V373.38H603.10V365.07H603.60V372.25H604.10V361.81H604.60V360.44H605.10V370.58H605.60V352.77H606.10V362.60H606.60V363.06H607.10V370.84H607.60V368.25H608.10V367.23H608.60V370.38H609.10V366.80H609.60V371.09H610.10V372.79H610.60V364.45H611.10V363.12H611.60V363.55H612.10V365.40H612.60V365.61H613.10V370.15H613.60V368.84H614.10V366.72H614.60V373.84H615.10V369.51H615.60V364.57H616.10V360.95H616.60V369.38H617.10V363.40H617.60V365.80H618.10V366.03H618.60V367.91H619.10V368.92H619.60V372.80H620.10V371.02H620.60V367.58H621.10V371.10H621.60V365.89H622.10V362.54H622.60V369.27H623.10V363.31H623.60V364.16H624.10V365.86H624.60V363.96H625.10V358.19H625.60V365.00H626.10V363.21H626.60V365.31H627.10V364.76H627.60V361.28H628.10V364.41H628.60V363.46H629.10V365.39H629.60V364.10H630.10V360.04H630.60V369.72H631.10V354.48H631.60V357.21H632.10V364.20H632.60V363.87H633.10V375.40Z" fill="#4a8cf0" stroke="none" stroke-width="1" />
<line x1="570.80" y1="375.30" x2="633.30" y2="375.30" stroke="#2a5aa8" stroke-width="0.9" />
<line x1="570.50" y1="334.90" x2="570.50" y2="375.90" stroke="#333" stroke-width="0.8" />
<text x="571.60" y="341.50" font-size="8.4" textLength="14.90" lengthAdjust="spacingAndGlyphs" fill="#4a8cf0" >0-11</text>
<path d="M571.10,421.00H571.10V415.48H571.60V411.99H572.10V415.00H572.60V416.20H573.10V418.48H573.60V416.70H574.10V416.87H574.60V418.33H575.10V416.54H575.60V417.03H576.10V415.27H576.60V415.81H577.10V413.73H577.60V416.69H578.10V416.88H578.60V414.00H579.10V415.40H579.60V415.49H580.10V414.78H580.60V417.60H581.10V412.26H581.60V417.33H582.10V417.31H582.60V412.63H583.10V414.33H583.60V411.95H584.10V418.20H584.60V415.96H585.10V413.16H585.60V415.75H586.10V388.95H586.60V391.00H587.10V397.00H587.60V395.09H588.10V405.27H588.60V396.01H589.10V380.60H589.60V385.59H590.10V409.43H590.60V392.02H591.10V393.54H591.60V404.70H592.10V383.00H592.60V390.60H593.10V403.83H593.60V411.11H594.10V413.29H594.60V382.00H595.10V380.60H595.60V412.53H596.10V413.90H596.60V407.78H597.10V418.77H597.60V416.36H598.10V418.51H598.60V414.78H599.10V411.37H599.60V415.85H600.10V401.00H600.60V405.00H601.10V411.18H601.60V411.98H602.10V405.81H602.60V414.13H603.10V395.00H603.60V400.20H604.10V383.95H604.60V413.97H605.10V416.92H605.60V405.31H606.10V406.48H606.60V409.86H607.10V410.20H607.60V404.00H608.10V407.40H608.60V402.35H609.10V415.45H609.60V414.15H610.10V416.31H610.60V418.25H611.10V419.45H611.60V419.68H612.10V415.46H612.60V414.91H613.10V416.70H613.60V416.65H614.10V417.84H614.60V417.60H615.10V417.75H615.60V412.72H616.10V415.40H616.60V418.33H617.10V417.74H617.60V418.22H618.10V419.62H618.60V417.13H619.10V417.47H619.60V416.01H620.10V413.08H620.60V415.35H621.10V415.45H621.60V419.31H622.10V419.81H622.60V411.55H623.10V412.71H623.60V414.96H624.10V413.86H624.60V417.38H625.10V419.50H625.60V416.81H626.10V418.09H626.60V412.40H627.10V416.06H627.60V411.52H628.10V416.08H628.60V416.58H629.10V399.57H629.60V413.14H630.10V414.64H630.60V415.81H631.10V414.40H631.60V407.00H632.10V409.80H632.60V417.76H633.10V421.00Z" fill="#f0464c" stroke="none" stroke-width="1" />
<line x1="570.80" y1="420.90" x2="633.30" y2="420.90" stroke="#a83035" stroke-width="0.9" />
<line x1="570.50" y1="380.00" x2="570.50" y2="421.50" stroke="#333" stroke-width="0.8" />
<text x="571.60" y="386.60" font-size="8.4" textLength="14.90" lengthAdjust="spacingAndGlyphs" fill="#f0464c" >0-11</text>
<path d="M571.10,466.80H571.10V462.76H571.60V460.94H572.10V460.57H572.60V462.29H573.10V463.31H573.60V465.29H574.10V459.62H574.60V462.80H575.10V465.36H575.60V460.82H576.10V460.71H576.60V461.72H577.10V458.13H577.60V461.89H578.10V458.08H578.60V464.93H579.10V461.73H579.60V461.91H580.10V457.97H580.60V455.28H581.10V463.93H581.60V450.46H582.10V454.80H582.60V457.45H583.10V459.78H583.60V455.86H584.10V457.12H584.60V451.36H585.10V442.53H585.60V448.39H586.10V457.28H586.60V429.05H587.10V440.40H587.60V445.46H588.10V450.55H588.60V449.65H589.10V426.10H589.60V429.30H590.10V447.47H590.60V447.47H591.10V441.91H591.60V455.39H592.10V450.74H592.60V452.76H593.10V435.80H593.60V444.40H594.10V441.36H594.60V460.25H595.10V459.30H595.60V452.96H596.10V459.19H596.60V456.74H597.10V456.52H597.60V457.38H598.10V453.82H598.60V456.41H599.10V454.80H599.60V455.07H600.10V454.03H600.60V462.61H601.10V463.45H601.60V459.84H602.10V456.70H602.60V461.63H603.10V460.11H603.60V461.11H604.10V458.35H604.60V464.07H605.10V464.06H605.60V458.11H606.10V454.14H606.60V457.83H607.10V456.34H607.60V452.75H608.10V455.60H608.60V453.20H609.10V464.27H609.60V455.58H610.10V464.77H610.60V458.07H611.10V459.17H611.60V463.86H612.10V464.85H612.60V460.93H613.10V460.48H613.60V465.35H614.10V460.38H614.60V460.49H615.10V460.99H615.60V460.71H616.10V463.87H616.60V464.54H617.10V458.80H617.60V460.40H618.10V463.29H618.60V461.57H619.10V462.53H619.60V462.27H620.10V465.71H620.60V461.09H621.10V463.74H621.60V455.33H622.10V463.39H622.60V457.01H623.10V465.16H623.60V458.80H624.10V460.40H624.60V462.69H625.10V458.75H625.60V463.15H626.10V459.19H626.60V462.11H627.10V465.09H627.60V458.99H628.10V459.14H628.60V464.69H629.10V463.54H629.60V458.72H630.10V453.84H630.60V453.93H631.10V454.04H631.60V458.25H632.10V441.80H632.60V446.80H633.10V466.80Z" fill="#7b62f2" stroke="none" stroke-width="1" />
<line x1="570.80" y1="466.70" x2="633.30" y2="466.70" stroke="#4a3aa0" stroke-width="0.9" />
<line x1="570.50" y1="425.50" x2="570.50" y2="467.30" stroke="#333" stroke-width="0.8" />
<text x="571.60" y="432.10" font-size="8.4" textLength="14.90" lengthAdjust="spacingAndGlyphs" fill="#7b62f2" >0-11</text>
<text x="7.40" y="514.40" font-size="23.3" textLength="15.00" lengthAdjust="spacingAndGlyphs" class="tb" >d</text>
<text x="207.20" y="506.10" font-size="13.2" textLength="103.50" lengthAdjust="spacingAndGlyphs" class="t" >DSBCapture-qPCR</text>
<text x="551.80" y="505.90" font-size="13.2" text-anchor="middle" textLength="52.00" lengthAdjust="spacingAndGlyphs" class="t" >RT-qPCR</text>
<text x="7.30" y="572.30" font-size="9.1" textLength="78.80" lengthAdjust="spacingAndGlyphs" >E2-responder genes</text>
<text x="22.60" y="580.60" font-size="9.1" textLength="47.40" lengthAdjust="spacingAndGlyphs" >modified by</text>
<text x="2.20" y="589.90" font-size="9.1" textLength="91.20" lengthAdjust="spacingAndGlyphs" >A3B**-hUGI expression</text>
<text x="6.80" y="714.40" font-size="9.1" textLength="78.70" lengthAdjust="spacingAndGlyphs" >E2-responder genes</text>
<text x="18.50" y="723.10" font-size="9.1" textLength="54.00" lengthAdjust="spacingAndGlyphs" >unaffected by</text>
<text x="1.90" y="731.20" font-size="9.1" textLength="90.90" lengthAdjust="spacingAndGlyphs" >A3B**-hUGI expression</text>
<text class="t" x="0" y="0" font-size="12.4" textLength="42.1" lengthAdjust="spacingAndGlyphs" transform="translate(108.9 606.05) rotate(-90)">% input</text>
<text class="t" x="0" y="0" font-size="12.4" textLength="42.1" lengthAdjust="spacingAndGlyphs" transform="translate(108.9 752.05) rotate(-90)">% input</text>
<text class="t" x="0" y="0" font-size="12" text-anchor="middle" textLength="67.9" lengthAdjust="spacingAndGlyphs" transform="translate(439.4 572.00) rotate(-90)">fold change,</text>
<text class="t" x="0" y="0" font-size="11.6" text-anchor="middle" textLength="94.3" lengthAdjust="spacingAndGlyphs" transform="translate(455.0 570.80) rotate(-90)">mRNA expression</text>
<text class="t" x="0" y="0" font-size="12" text-anchor="middle" textLength="67.9" lengthAdjust="spacingAndGlyphs" transform="translate(439.4 727.00) rotate(-90)">fold change,</text>
<text class="t" x="0" y="0" font-size="11.6" text-anchor="middle" textLength="96.0" lengthAdjust="spacingAndGlyphs" transform="translate(455.0 727.70) rotate(-90)">mRNA expression</text>
<text x="382.90" y="634.30" font-size="9.6" textLength="17.30" lengthAdjust="spacingAndGlyphs" fill="#444" >n=3</text>
<text x="637.00" y="634.80" font-size="9.6" textLength="16.70" lengthAdjust="spacingAndGlyphs" fill="#444" >n=3</text>
<text x="382.90" y="782.30" font-size="9.6" textLength="17.30" lengthAdjust="spacingAndGlyphs" fill="#444" >n=3</text>
<text x="637.00" y="782.80" font-size="9.6" textLength="16.70" lengthAdjust="spacingAndGlyphs" fill="#444" >n=3</text>
<path d="M135.90,529.40 V637.30 H378.7" fill="none" stroke="#444" stroke-width="1.0" />
<line x1="134.10" y1="633.10" x2="135.90" y2="633.10" stroke="#444" stroke-width="0.8" />
<text x="132.90" y="635.90" font-size="8.1" text-anchor="end" textLength="4.80" lengthAdjust="spacingAndGlyphs" fill="#333" >0</text>
<line x1="134.10" y1="613.30" x2="135.90" y2="613.30" stroke="#444" stroke-width="0.8" />
<text x="132.90" y="616.10" font-size="8.1" text-anchor="end" textLength="16.70" lengthAdjust="spacingAndGlyphs" fill="#333" >0.02</text>
<line x1="134.10" y1="593.50" x2="135.90" y2="593.50" stroke="#444" stroke-width="0.8" />
<text x="132.90" y="596.30" font-size="8.1" text-anchor="end" textLength="16.70" lengthAdjust="spacingAndGlyphs" fill="#333" >0.04</text>
<line x1="134.10" y1="573.70" x2="135.90" y2="573.70" stroke="#444" stroke-width="0.8" />
<text x="132.90" y="576.50" font-size="8.1" text-anchor="end" textLength="16.70" lengthAdjust="spacingAndGlyphs" fill="#333" >0.06</text>
<line x1="134.10" y1="553.90" x2="135.90" y2="553.90" stroke="#444" stroke-width="0.8" />
<text x="132.90" y="556.70" font-size="8.1" text-anchor="end" textLength="16.70" lengthAdjust="spacingAndGlyphs" fill="#333" >0.08</text>
<line x1="134.10" y1="534.10" x2="135.90" y2="534.10" stroke="#444" stroke-width="0.8" />
<text x="132.90" y="536.90" font-size="8.1" text-anchor="end" textLength="16.70" lengthAdjust="spacingAndGlyphs" fill="#333" >0.10</text>
<line x1="159.30" y1="637.30" x2="159.30" y2="638.70" stroke="#444" stroke-width="0.7" />
<line x1="199.40" y1="637.30" x2="199.40" y2="638.70" stroke="#444" stroke-width="0.7" />
<line x1="239.50" y1="637.30" x2="239.50" y2="638.70" stroke="#444" stroke-width="0.7" />
<line x1="279.60" y1="637.30" x2="279.60" y2="638.70" stroke="#444" stroke-width="0.7" />
<line x1="319.50" y1="637.30" x2="319.50" y2="638.70" stroke="#444" stroke-width="0.7" />
<line x1="359.60" y1="637.30" x2="359.60" y2="638.70" stroke="#444" stroke-width="0.7" />
<rect x="144.55" y="629.60" width="4.93" height="3.50" fill="#3f8cf5" stroke="#4a4a4a" stroke-width="0.75"/>
<rect x="149.48" y="627.40" width="4.93" height="5.70" fill="#f5474d" stroke="#4a4a4a" stroke-width="0.75"/>
<rect x="154.41" y="630.00" width="4.93" height="3.10" fill="url(#pbdt)" stroke="#8c8c8c" stroke-width="0.75"/>
<rect x="159.34" y="631.00" width="4.93" height="2.10" fill="url(#prdt)" stroke="#8c8c8c" stroke-width="0.75"/>
<rect x="164.27" y="632.00" width="4.93" height="1.10" fill="url(#bwdt)" stroke="#555555" stroke-width="0.75"/>
<rect x="169.20" y="628.00" width="4.93" height="5.10" fill="url(#rwdt)" stroke="#555555" stroke-width="0.75"/>
<line x1="147.02" y1="629.60" x2="147.02" y2="627.00" stroke="#8a8a8a" stroke-width="0.9" />
<line x1="146.32" y1="627.00" x2="147.72" y2="627.00" stroke="#555" stroke-width="0.8" />
<circle cx="147.18" cy="627.00" r="0.95" fill="#111"/>
<circle cx="146.86" cy="630.63" r="0.95" fill="#111"/>
<circle cx="147.15" cy="631.32" r="0.95" fill="#111"/>
<line x1="151.95" y1="627.40" x2="151.95" y2="623.60" stroke="#8a8a8a" stroke-width="0.9" />
<line x1="151.25" y1="623.60" x2="152.65" y2="623.60" stroke="#555" stroke-width="0.8" />
<circle cx="151.78" cy="623.60" r="0.95" fill="#111"/>
<circle cx="152.23" cy="628.68" r="0.95" fill="#111"/>
<circle cx="151.87" cy="629.99" r="0.95" fill="#111"/>
<line x1="156.88" y1="630.00" x2="156.88" y2="626.60" stroke="#8a8a8a" stroke-width="0.9" />
<line x1="156.18" y1="626.60" x2="157.58" y2="626.60" stroke="#555" stroke-width="0.8" />
<circle cx="156.95" cy="626.60" r="0.95" fill="#111"/>
<circle cx="156.67" cy="630.80" r="0.95" fill="#111"/>
<circle cx="156.82" cy="632.20" r="0.95" fill="#111"/>
<line x1="161.81" y1="631.00" x2="161.81" y2="628.60" stroke="#8a8a8a" stroke-width="0.9" />
<line x1="161.11" y1="628.60" x2="162.50" y2="628.60" stroke="#555" stroke-width="0.8" />
<circle cx="161.70" cy="628.60" r="0.95" fill="#111"/>
<circle cx="161.64" cy="631.87" r="0.95" fill="#111"/>
<circle cx="161.94" cy="632.20" r="0.95" fill="#111"/>
<line x1="166.74" y1="632.00" x2="166.74" y2="630.80" stroke="#8a8a8a" stroke-width="0.9" />
<line x1="166.04" y1="630.80" x2="167.44" y2="630.80" stroke="#555" stroke-width="0.8" />
<circle cx="166.51" cy="630.80" r="0.95" fill="#111"/>
<circle cx="166.95" cy="632.20" r="0.95" fill="#111"/>
<circle cx="167.03" cy="632.20" r="0.95" fill="#111"/>
<line x1="171.67" y1="628.00" x2="171.67" y2="627.00" stroke="#8a8a8a" stroke-width="0.9" />
<line x1="170.97" y1="627.00" x2="172.37" y2="627.00" stroke="#555" stroke-width="0.8" />
<circle cx="171.62" cy="627.00" r="0.95" fill="#111"/>
<circle cx="171.92" cy="628.34" r="0.95" fill="#111"/>
<circle cx="171.79" cy="628.67" r="0.95" fill="#111"/>
<rect x="184.65" y="631.00" width="4.93" height="2.10" fill="#3f8cf5" stroke="#4a4a4a" stroke-width="0.75"/>
<rect x="189.58" y="627.00" width="4.93" height="6.10" fill="#f5474d" stroke="#4a4a4a" stroke-width="0.75"/>
<rect x="194.51" y="629.60" width="4.93" height="3.50" fill="url(#pbdt)" stroke="#8c8c8c" stroke-width="0.75"/>
<rect x="199.44" y="631.40" width="4.93" height="1.70" fill="url(#prdt)" stroke="#8c8c8c" stroke-width="0.75"/>
<rect x="204.37" y="629.80" width="4.93" height="3.30" fill="url(#bwdt)" stroke="#555555" stroke-width="0.75"/>
<rect x="209.30" y="625.00" width="4.93" height="8.10" fill="url(#rwdt)" stroke="#555555" stroke-width="0.75"/>
<line x1="187.12" y1="631.00" x2="187.12" y2="629.60" stroke="#8a8a8a" stroke-width="0.9" />
<line x1="186.42" y1="629.60" x2="187.81" y2="629.60" stroke="#555" stroke-width="0.8" />
<circle cx="187.15" cy="629.60" r="0.95" fill="#111"/>
<circle cx="187.29" cy="631.59" r="0.95" fill="#111"/>
<circle cx="187.15" cy="632.19" r="0.95" fill="#111"/>
<line x1="192.05" y1="627.00" x2="192.05" y2="625.40" stroke="#8a8a8a" stroke-width="0.9" />
<line x1="191.35" y1="625.40" x2="192.75" y2="625.40" stroke="#555" stroke-width="0.8" />
<circle cx="192.18" cy="625.40" r="0.95" fill="#111"/>
<circle cx="191.86" cy="627.50" r="0.95" fill="#111"/>
<circle cx="191.95" cy="628.36" r="0.95" fill="#111"/>
<line x1="196.97" y1="629.60" x2="196.97" y2="627.00" stroke="#8a8a8a" stroke-width="0.9" />
<line x1="196.28" y1="627.00" x2="197.67" y2="627.00" stroke="#555" stroke-width="0.8" />
<circle cx="196.73" cy="627.00" r="0.95" fill="#111"/>
<circle cx="196.81" cy="630.15" r="0.95" fill="#111"/>
<circle cx="197.07" cy="631.43" r="0.95" fill="#111"/>
<line x1="201.91" y1="631.40" x2="201.91" y2="630.60" stroke="#8a8a8a" stroke-width="0.9" />
<line x1="201.21" y1="630.60" x2="202.60" y2="630.60" stroke="#555" stroke-width="0.8" />
<circle cx="201.94" cy="630.60" r="0.95" fill="#111"/>
<circle cx="202.17" cy="631.78" r="0.95" fill="#111"/>
<circle cx="201.64" cy="632.00" r="0.95" fill="#111"/>
<line x1="206.84" y1="629.80" x2="206.84" y2="627.60" stroke="#8a8a8a" stroke-width="0.9" />
<line x1="206.14" y1="627.60" x2="207.53" y2="627.60" stroke="#555" stroke-width="0.8" />
<circle cx="207.05" cy="627.60" r="0.95" fill="#111"/>
<circle cx="207.13" cy="630.29" r="0.95" fill="#111"/>
<circle cx="206.91" cy="631.81" r="0.95" fill="#111"/>
<line x1="211.77" y1="625.00" x2="211.77" y2="622.40" stroke="#8a8a8a" stroke-width="0.9" />
<line x1="211.07" y1="622.40" x2="212.47" y2="622.40" stroke="#555" stroke-width="0.8" />
<circle cx="211.86" cy="622.40" r="0.95" fill="#111"/>
<circle cx="212.01" cy="626.24" r="0.95" fill="#111"/>
<circle cx="211.95" cy="626.76" r="0.95" fill="#111"/>
<rect x="264.85" y="619.20" width="4.93" height="13.90" fill="#3f8cf5" stroke="#4a4a4a" stroke-width="0.75"/>
<rect x="269.78" y="557.90" width="4.93" height="75.20" fill="#f5474d" stroke="#4a4a4a" stroke-width="0.75"/>
<rect x="274.71" y="623.40" width="4.93" height="9.70" fill="url(#pbdt)" stroke="#8c8c8c" stroke-width="0.75"/>
<rect x="279.64" y="589.00" width="4.93" height="44.10" fill="url(#prdt)" stroke="#8c8c8c" stroke-width="0.75"/>
<rect x="284.57" y="623.40" width="4.93" height="9.70" fill="url(#bwdt)" stroke="#555555" stroke-width="0.75"/>
<rect x="289.50" y="597.00" width="4.93" height="36.10" fill="url(#rwdt)" stroke="#555555" stroke-width="0.75"/>
<line x1="267.31" y1="619.20" x2="267.31" y2="617.60" stroke="#8a8a8a" stroke-width="0.9" />
<line x1="266.62" y1="617.60" x2="268.01" y2="617.60" stroke="#555" stroke-width="0.8" />
<circle cx="267.58" cy="617.60" r="0.95" fill="#111"/>
<circle cx="267.07" cy="619.92" r="0.95" fill="#111"/>
<circle cx="267.48" cy="620.79" r="0.95" fill="#111"/>
<line x1="272.25" y1="557.90" x2="272.25" y2="549.50" stroke="#8a8a8a" stroke-width="0.9" />
<line x1="271.55" y1="549.50" x2="272.94" y2="549.50" stroke="#555" stroke-width="0.8" />
<circle cx="272.50" cy="549.50" r="0.95" fill="#111"/>
<circle cx="272.00" cy="561.08" r="0.95" fill="#111"/>
<circle cx="271.99" cy="565.67" r="0.95" fill="#111"/>
<line x1="277.18" y1="623.40" x2="277.18" y2="620.30" stroke="#8a8a8a" stroke-width="0.9" />
<line x1="276.48" y1="620.30" x2="277.88" y2="620.30" stroke="#555" stroke-width="0.8" />
<circle cx="277.44" cy="620.30" r="0.95" fill="#111"/>
<circle cx="277.40" cy="624.90" r="0.95" fill="#111"/>
<circle cx="277.31" cy="626.02" r="0.95" fill="#111"/>
<line x1="282.11" y1="589.00" x2="282.11" y2="588.00" stroke="#8a8a8a" stroke-width="0.9" />
<line x1="281.41" y1="588.00" x2="282.81" y2="588.00" stroke="#555" stroke-width="0.8" />
<circle cx="281.87" cy="588.00" r="0.95" fill="#111"/>
<circle cx="282.17" cy="589.46" r="0.95" fill="#111"/>
<circle cx="281.97" cy="589.87" r="0.95" fill="#111"/>
<line x1="287.04" y1="623.40" x2="287.04" y2="619.60" stroke="#8a8a8a" stroke-width="0.9" />
<line x1="286.34" y1="619.60" x2="287.74" y2="619.60" stroke="#555" stroke-width="0.8" />
<circle cx="286.94" cy="619.60" r="0.95" fill="#111"/>
<circle cx="286.83" cy="624.88" r="0.95" fill="#111"/>
<circle cx="287.08" cy="626.59" r="0.95" fill="#111"/>
<line x1="291.96" y1="597.00" x2="291.96" y2="593.60" stroke="#8a8a8a" stroke-width="0.9" />
<line x1="291.26" y1="593.60" x2="292.66" y2="593.60" stroke="#555" stroke-width="0.8" />
<circle cx="292.10" cy="593.60" r="0.95" fill="#111"/>
<circle cx="291.80" cy="598.29" r="0.95" fill="#111"/>
<circle cx="291.75" cy="600.04" r="0.95" fill="#111"/>
<rect x="304.75" y="617.20" width="4.93" height="15.90" fill="#3f8cf5" stroke="#4a4a4a" stroke-width="0.75"/>
<rect x="309.68" y="574.70" width="4.93" height="58.40" fill="#f5474d" stroke="#4a4a4a" stroke-width="0.75"/>
<rect x="314.61" y="621.70" width="4.93" height="11.40" fill="url(#pbdt)" stroke="#8c8c8c" stroke-width="0.75"/>
<rect x="319.54" y="613.30" width="4.93" height="19.80" fill="url(#prdt)" stroke="#8c8c8c" stroke-width="0.75"/>
<rect x="324.47" y="624.20" width="4.93" height="8.90" fill="url(#bwdt)" stroke="#555555" stroke-width="0.75"/>
<rect x="329.40" y="618.80" width="4.93" height="14.30" fill="url(#rwdt)" stroke="#555555" stroke-width="0.75"/>
<line x1="307.21" y1="617.20" x2="307.21" y2="609.00" stroke="#8a8a8a" stroke-width="0.9" />
<line x1="306.51" y1="609.00" x2="307.91" y2="609.00" stroke="#555" stroke-width="0.8" />
<circle cx="307.34" cy="609.00" r="0.95" fill="#111"/>
<circle cx="306.94" cy="620.91" r="0.95" fill="#111"/>
<circle cx="307.42" cy="623.67" r="0.95" fill="#111"/>
<line x1="312.14" y1="574.70" x2="312.14" y2="565.40" stroke="#8a8a8a" stroke-width="0.9" />
<line x1="311.44" y1="565.40" x2="312.84" y2="565.40" stroke="#555" stroke-width="0.8" />
<circle cx="311.91" cy="565.40" r="0.95" fill="#111"/>
<circle cx="311.91" cy="577.76" r="0.95" fill="#111"/>
<circle cx="311.86" cy="582.57" r="0.95" fill="#111"/>
<line x1="317.07" y1="621.70" x2="317.07" y2="619.80" stroke="#8a8a8a" stroke-width="0.9" />
<line x1="316.38" y1="619.80" x2="317.77" y2="619.80" stroke="#555" stroke-width="0.8" />
<circle cx="316.82" cy="619.80" r="0.95" fill="#111"/>
<circle cx="317.18" cy="622.48" r="0.95" fill="#111"/>
<circle cx="317.13" cy="623.44" r="0.95" fill="#111"/>
<line x1="322.00" y1="613.30" x2="322.00" y2="608.80" stroke="#8a8a8a" stroke-width="0.9" />
<line x1="321.31" y1="608.80" x2="322.70" y2="608.80" stroke="#555" stroke-width="0.8" />
<circle cx="321.76" cy="608.80" r="0.95" fill="#111"/>
<circle cx="321.98" cy="614.83" r="0.95" fill="#111"/>
<circle cx="322.21" cy="616.52" r="0.95" fill="#111"/>
<line x1="326.94" y1="624.20" x2="326.94" y2="621.60" stroke="#8a8a8a" stroke-width="0.9" />
<line x1="326.24" y1="621.60" x2="327.63" y2="621.60" stroke="#555" stroke-width="0.8" />
<circle cx="327.12" cy="621.60" r="0.95" fill="#111"/>
<circle cx="326.78" cy="624.97" r="0.95" fill="#111"/>
<circle cx="326.89" cy="625.98" r="0.95" fill="#111"/>
<line x1="331.86" y1="618.80" x2="331.86" y2="618.00" stroke="#8a8a8a" stroke-width="0.9" />
<line x1="331.16" y1="618.00" x2="332.56" y2="618.00" stroke="#555" stroke-width="0.8" />
<circle cx="331.59" cy="618.00" r="0.95" fill="#111"/>
<circle cx="331.87" cy="618.98" r="0.95" fill="#111"/>
<circle cx="331.90" cy="619.55" r="0.95" fill="#111"/>
<rect x="344.85" y="621.20" width="4.93" height="11.90" fill="#3f8cf5" stroke="#4a4a4a" stroke-width="0.75"/>
<rect x="349.78" y="596.20" width="4.93" height="36.90" fill="#f5474d" stroke="#4a4a4a" stroke-width="0.75"/>
<rect x="354.71" y="623.40" width="4.93" height="9.70" fill="url(#pbdt)" stroke="#8c8c8c" stroke-width="0.75"/>
<rect x="359.64" y="615.50" width="4.93" height="17.60" fill="url(#prdt)" stroke="#8c8c8c" stroke-width="0.75"/>
<rect x="364.57" y="624.20" width="4.93" height="8.90" fill="url(#bwdt)" stroke="#555555" stroke-width="0.75"/>
<rect x="369.50" y="616.10" width="4.93" height="17.00" fill="url(#rwdt)" stroke="#555555" stroke-width="0.75"/>
<line x1="347.31" y1="621.20" x2="347.31" y2="618.60" stroke="#8a8a8a" stroke-width="0.9" />
<line x1="346.62" y1="618.60" x2="348.01" y2="618.60" stroke="#555" stroke-width="0.8" />
<circle cx="347.35" cy="618.60" r="0.95" fill="#111"/>
<circle cx="347.48" cy="621.74" r="0.95" fill="#111"/>
<circle cx="347.38" cy="622.87" r="0.95" fill="#111"/>
<line x1="352.25" y1="596.20" x2="352.25" y2="592.00" stroke="#8a8a8a" stroke-width="0.9" />
<line x1="351.55" y1="592.00" x2="352.94" y2="592.00" stroke="#555" stroke-width="0.8" />
<circle cx="352.25" cy="592.00" r="0.95" fill="#111"/>
<circle cx="352.06" cy="597.71" r="0.95" fill="#111"/>
<circle cx="352.35" cy="599.15" r="0.95" fill="#111"/>
<line x1="357.18" y1="623.40" x2="357.18" y2="620.20" stroke="#8a8a8a" stroke-width="0.9" />
<line x1="356.48" y1="620.20" x2="357.88" y2="620.20" stroke="#555" stroke-width="0.8" />
<circle cx="356.95" cy="620.20" r="0.95" fill="#111"/>
<circle cx="357.41" cy="624.77" r="0.95" fill="#111"/>
<circle cx="357.31" cy="625.82" r="0.95" fill="#111"/>
<line x1="362.11" y1="615.50" x2="362.11" y2="608.80" stroke="#8a8a8a" stroke-width="0.9" />
<line x1="361.41" y1="608.80" x2="362.81" y2="608.80" stroke="#555" stroke-width="0.8" />
<circle cx="362.14" cy="608.80" r="0.95" fill="#111"/>
<circle cx="362.33" cy="618.84" r="0.95" fill="#111"/>
<circle cx="362.06" cy="621.63" r="0.95" fill="#111"/>
<line x1="367.04" y1="624.20" x2="367.04" y2="621.40" stroke="#8a8a8a" stroke-width="0.9" />
<line x1="366.34" y1="621.40" x2="367.74" y2="621.40" stroke="#555" stroke-width="0.8" />
<circle cx="366.88" cy="621.40" r="0.95" fill="#111"/>
<circle cx="366.82" cy="625.19" r="0.95" fill="#111"/>
<circle cx="367.25" cy="626.62" r="0.95" fill="#111"/>
<line x1="371.96" y1="616.10" x2="371.96" y2="612.80" stroke="#8a8a8a" stroke-width="0.9" />
<line x1="371.26" y1="612.80" x2="372.66" y2="612.80" stroke="#555" stroke-width="0.8" />
<circle cx="372.14" cy="612.80" r="0.95" fill="#111"/>
<circle cx="371.84" cy="617.68" r="0.95" fill="#111"/>
<circle cx="371.92" cy="618.66" r="0.95" fill="#111"/>
<path d="M269.30,523.80 V519.80 H291.10 V584.80" fill="none" stroke="#333" stroke-width="0.85" />
<line x1="265.00" y1="523.80" x2="273.50" y2="523.80" stroke="#333" stroke-width="0.85" />
<line x1="287.20" y1="584.80" x2="295.60" y2="584.80" stroke="#333" stroke-width="0.85" />
<text x="279.80" y="520.20" font-size="10" text-anchor="middle" textLength="12.60" lengthAdjust="spacingAndGlyphs" fill="#222" >***</text>
<path d="M269.30,537.70 V533.50 H280.50 V576.40" fill="none" stroke="#333" stroke-width="0.85" />
<line x1="265.00" y1="537.70" x2="273.50" y2="537.70" stroke="#333" stroke-width="0.85" />
<line x1="276.00" y1="576.40" x2="284.90" y2="576.40" stroke="#333" stroke-width="0.85" />
<text x="274.30" y="533.90" font-size="10" text-anchor="middle" textLength="12.60" lengthAdjust="spacingAndGlyphs" fill="#222" >***</text>
<path d="M308.70,540.60 V536.00 H331.40 V608.30" fill="none" stroke="#333" stroke-width="0.85" />
<line x1="304.50" y1="540.60" x2="313.80" y2="540.60" stroke="#333" stroke-width="0.85" />
<line x1="326.90" y1="608.30" x2="335.90" y2="608.30" stroke="#333" stroke-width="0.85" />
<text x="318.80" y="536.70" font-size="10" text-anchor="middle" textLength="12.60" lengthAdjust="spacingAndGlyphs" fill="#222" >***</text>
<path d="M308.70,556.20 V551.70 H320.10 V600.40" fill="none" stroke="#333" stroke-width="0.85" />
<line x1="304.50" y1="556.20" x2="313.80" y2="556.20" stroke="#333" stroke-width="0.85" />
<line x1="315.80" y1="600.40" x2="324.70" y2="600.40" stroke="#333" stroke-width="0.85" />
<text x="313.40" y="551.40" font-size="10" text-anchor="middle" textLength="12.60" lengthAdjust="spacingAndGlyphs" fill="#222" >***</text>
<path d="M348.50,568.50 V563.80 H371.10 V605.70" fill="none" stroke="#333" stroke-width="0.85" />
<line x1="344.30" y1="568.50" x2="353.80" y2="568.50" stroke="#333" stroke-width="0.85" />
<line x1="366.60" y1="605.70" x2="375.70" y2="605.70" stroke="#333" stroke-width="0.85" />
<text x="359.90" y="564.80" font-size="10" text-anchor="middle" textLength="12.60" lengthAdjust="spacingAndGlyphs" fill="#222" >***</text>
<path d="M348.50,583.00 V578.50 H360.60 V599.90" fill="none" stroke="#333" stroke-width="0.85" />
<line x1="344.30" y1="583.00" x2="353.80" y2="583.00" stroke="#333" stroke-width="0.85" />
<line x1="356.00" y1="599.90" x2="365.60" y2="599.90" stroke="#333" stroke-width="0.85" />
<text x="354.30" y="579.00" font-size="10" text-anchor="middle" textLength="8.40" lengthAdjust="spacingAndGlyphs" fill="#222" >**</text>
<text x="0" y="0" font-size="6.9" textLength="22.90" lengthAdjust="spacingAndGlyphs" fill="#222" transform="translate(158.20 643.97) rotate(45)">PGR (-)</text>
<text x="0" y="0" font-size="6.9" textLength="27.00" lengthAdjust="spacingAndGlyphs" fill="#222" transform="translate(198.50 643.97) rotate(45)">RARA (-)</text>
<text x="0" y="0" font-size="6.9" textLength="15.00" lengthAdjust="spacingAndGlyphs" fill="#222" transform="translate(278.80 644.57) rotate(45)">CISH</text>
<text x="0" y="0" font-size="6.9" textLength="12.60" lengthAdjust="spacingAndGlyphs" fill="#222" transform="translate(319.00 644.57) rotate(45)">PGR</text>
<text x="0" y="0" font-size="6.9" textLength="17.10" lengthAdjust="spacingAndGlyphs" fill="#222" transform="translate(359.10 644.57) rotate(45)">RARA</text>
<path d="M135.90,675.10 V783.80 H378.7" fill="none" stroke="#444" stroke-width="1.0" />
<line x1="134.10" y1="779.00" x2="135.90" y2="779.00" stroke="#444" stroke-width="0.8" />
<text x="132.90" y="781.80" font-size="8.1" text-anchor="end" textLength="4.80" lengthAdjust="spacingAndGlyphs" fill="#333" >0</text>
<line x1="134.10" y1="759.08" x2="135.90" y2="759.08" stroke="#444" stroke-width="0.8" />
<text x="132.90" y="761.88" font-size="8.1" text-anchor="end" textLength="16.70" lengthAdjust="spacingAndGlyphs" fill="#333" >0.02</text>
<line x1="134.10" y1="739.16" x2="135.90" y2="739.16" stroke="#444" stroke-width="0.8" />
<text x="132.90" y="741.96" font-size="8.1" text-anchor="end" textLength="16.70" lengthAdjust="spacingAndGlyphs" fill="#333" >0.04</text>
<line x1="134.10" y1="719.24" x2="135.90" y2="719.24" stroke="#444" stroke-width="0.8" />
<text x="132.90" y="722.04" font-size="8.1" text-anchor="end" textLength="16.70" lengthAdjust="spacingAndGlyphs" fill="#333" >0.06</text>
<line x1="134.10" y1="699.32" x2="135.90" y2="699.32" stroke="#444" stroke-width="0.8" />
<text x="132.90" y="702.12" font-size="8.1" text-anchor="end" textLength="16.70" lengthAdjust="spacingAndGlyphs" fill="#333" >0.08</text>
<line x1="134.10" y1="679.40" x2="135.90" y2="679.40" stroke="#444" stroke-width="0.8" />
<text x="132.90" y="682.20" font-size="8.1" text-anchor="end" textLength="16.70" lengthAdjust="spacingAndGlyphs" fill="#333" >0.10</text>
<line x1="159.30" y1="783.80" x2="159.30" y2="785.20" stroke="#444" stroke-width="0.7" />
<line x1="199.40" y1="783.80" x2="199.40" y2="785.20" stroke="#444" stroke-width="0.7" />
<line x1="239.50" y1="783.80" x2="239.50" y2="785.20" stroke="#444" stroke-width="0.7" />
<line x1="279.60" y1="783.80" x2="279.60" y2="785.20" stroke="#444" stroke-width="0.7" />
<line x1="319.50" y1="783.80" x2="319.50" y2="785.20" stroke="#444" stroke-width="0.7" />
<line x1="359.60" y1="783.80" x2="359.60" y2="785.20" stroke="#444" stroke-width="0.7" />
<rect x="144.55" y="775.80" width="4.93" height="3.20" fill="#3f8cf5" stroke="#4a4a4a" stroke-width="0.75"/>
<rect x="149.48" y="775.60" width="4.93" height="3.40" fill="#f5474d" stroke="#4a4a4a" stroke-width="0.75"/>
<rect x="154.41" y="773.80" width="4.93" height="5.20" fill="url(#pbdb)" stroke="#8c8c8c" stroke-width="0.75"/>
<rect x="159.34" y="775.00" width="4.93" height="4.00" fill="url(#prdb)" stroke="#8c8c8c" stroke-width="0.75"/>
<rect x="164.27" y="776.80" width="4.93" height="2.20" fill="url(#bwdb)" stroke="#555555" stroke-width="0.75"/>
<rect x="169.20" y="775.40" width="4.93" height="3.60" fill="url(#rwdb)" stroke="#555555" stroke-width="0.75"/>
<line x1="147.02" y1="775.80" x2="147.02" y2="773.60" stroke="#8a8a8a" stroke-width="0.9" />
<line x1="146.32" y1="773.60" x2="147.72" y2="773.60" stroke="#555" stroke-width="0.8" />
<circle cx="147.17" cy="773.60" r="0.95" fill="#111"/>
<circle cx="146.88" cy="776.38" r="0.95" fill="#111"/>
<circle cx="147.09" cy="777.42" r="0.95" fill="#111"/>
<line x1="151.95" y1="775.60" x2="151.95" y2="774.00" stroke="#8a8a8a" stroke-width="0.9" />
<line x1="151.25" y1="774.00" x2="152.65" y2="774.00" stroke="#555" stroke-width="0.8" />
<circle cx="152.16" cy="774.00" r="0.95" fill="#111"/>
<circle cx="151.67" cy="776.16" r="0.95" fill="#111"/>
<circle cx="152.07" cy="776.76" r="0.95" fill="#111"/>
<line x1="156.88" y1="773.80" x2="156.88" y2="771.40" stroke="#8a8a8a" stroke-width="0.9" />
<line x1="156.18" y1="771.40" x2="157.58" y2="771.40" stroke="#555" stroke-width="0.8" />
<circle cx="156.85" cy="771.40" r="0.95" fill="#111"/>
<circle cx="156.97" cy="774.33" r="0.95" fill="#111"/>
<circle cx="157.05" cy="775.30" r="0.95" fill="#111"/>
<line x1="161.81" y1="775.00" x2="161.81" y2="773.60" stroke="#8a8a8a" stroke-width="0.9" />
<line x1="161.11" y1="773.60" x2="162.50" y2="773.60" stroke="#555" stroke-width="0.8" />
<circle cx="162.01" cy="773.60" r="0.95" fill="#111"/>
<circle cx="161.87" cy="775.56" r="0.95" fill="#111"/>
<circle cx="161.89" cy="776.13" r="0.95" fill="#111"/>
<line x1="166.74" y1="776.80" x2="166.74" y2="776.20" stroke="#8a8a8a" stroke-width="0.9" />
<line x1="166.04" y1="776.20" x2="167.44" y2="776.20" stroke="#555" stroke-width="0.8" />
<circle cx="166.69" cy="776.00" r="0.95" fill="#111"/>
<circle cx="166.86" cy="777.17" r="0.95" fill="#111"/>
<circle cx="166.77" cy="777.38" r="0.95" fill="#111"/>
<line x1="171.67" y1="775.40" x2="171.67" y2="774.40" stroke="#8a8a8a" stroke-width="0.9" />
<line x1="170.97" y1="774.40" x2="172.37" y2="774.40" stroke="#555" stroke-width="0.8" />
<circle cx="171.94" cy="774.40" r="0.95" fill="#111"/>
<circle cx="171.61" cy="775.90" r="0.95" fill="#111"/>
<circle cx="171.94" cy="776.35" r="0.95" fill="#111"/>
<rect x="184.65" y="774.00" width="4.93" height="5.00" fill="#3f8cf5" stroke="#4a4a4a" stroke-width="0.75"/>
<rect x="189.58" y="776.40" width="4.93" height="2.60" fill="#f5474d" stroke="#4a4a4a" stroke-width="0.75"/>
<rect x="194.51" y="775.60" width="4.93" height="3.40" fill="url(#pbdb)" stroke="#8c8c8c" stroke-width="0.75"/>
<rect x="199.44" y="776.20" width="4.93" height="2.80" fill="url(#prdb)" stroke="#8c8c8c" stroke-width="0.75"/>
<rect x="204.37" y="776.40" width="4.93" height="2.60" fill="url(#bwdb)" stroke="#555555" stroke-width="0.75"/>
<rect x="209.30" y="774.60" width="4.93" height="4.40" fill="url(#rwdb)" stroke="#555555" stroke-width="0.75"/>
<line x1="187.12" y1="774.00" x2="187.12" y2="771.20" stroke="#8a8a8a" stroke-width="0.9" />
<line x1="186.42" y1="771.20" x2="187.81" y2="771.20" stroke="#555" stroke-width="0.8" />
<circle cx="186.85" cy="771.20" r="0.95" fill="#111"/>
<circle cx="187.21" cy="775.00" r="0.95" fill="#111"/>
<circle cx="187.28" cy="775.90" r="0.95" fill="#111"/>
<line x1="192.05" y1="776.40" x2="192.05" y2="775.00" stroke="#8a8a8a" stroke-width="0.9" />
<line x1="191.35" y1="775.00" x2="192.75" y2="775.00" stroke="#555" stroke-width="0.8" />
<circle cx="191.92" cy="775.00" r="0.95" fill="#111"/>
<circle cx="191.88" cy="777.04" r="0.95" fill="#111"/>
<circle cx="191.99" cy="777.50" r="0.95" fill="#111"/>
<line x1="196.97" y1="775.60" x2="196.97" y2="774.00" stroke="#8a8a8a" stroke-width="0.9" />
<line x1="196.28" y1="774.00" x2="197.67" y2="774.00" stroke="#555" stroke-width="0.8" />
<circle cx="197.13" cy="774.00" r="0.95" fill="#111"/>
<circle cx="197.16" cy="776.22" r="0.95" fill="#111"/>
<circle cx="197.17" cy="777.16" r="0.95" fill="#111"/>
<line x1="201.91" y1="776.20" x2="201.91" y2="775.40" stroke="#8a8a8a" stroke-width="0.9" />
<line x1="201.21" y1="775.40" x2="202.60" y2="775.40" stroke="#555" stroke-width="0.8" />
<circle cx="201.80" cy="775.40" r="0.95" fill="#111"/>
<circle cx="202.18" cy="776.55" r="0.95" fill="#111"/>
<circle cx="202.00" cy="776.71" r="0.95" fill="#111"/>
<line x1="206.84" y1="776.40" x2="206.84" y2="775.80" stroke="#8a8a8a" stroke-width="0.9" />
<line x1="206.14" y1="775.80" x2="207.53" y2="775.80" stroke="#555" stroke-width="0.8" />
<circle cx="206.69" cy="775.60" r="0.95" fill="#111"/>
<circle cx="206.55" cy="776.79" r="0.95" fill="#111"/>
<circle cx="206.80" cy="776.90" r="0.95" fill="#111"/>
<line x1="211.77" y1="774.60" x2="211.77" y2="772.60" stroke="#8a8a8a" stroke-width="0.9" />
<line x1="211.07" y1="772.60" x2="212.47" y2="772.60" stroke="#555" stroke-width="0.8" />
<circle cx="211.78" cy="772.60" r="0.95" fill="#111"/>
<circle cx="211.69" cy="775.31" r="0.95" fill="#111"/>
<circle cx="211.62" cy="776.06" r="0.95" fill="#111"/>
<rect x="264.85" y="773.40" width="4.93" height="5.60" fill="#3f8cf5" stroke="#4a4a4a" stroke-width="0.75"/>
<rect x="269.78" y="715.80" width="4.93" height="63.20" fill="#f5474d" stroke="#4a4a4a" stroke-width="0.75"/>
<rect x="274.71" y="773.40" width="4.93" height="5.60" fill="url(#pbdb)" stroke="#8c8c8c" stroke-width="0.75"/>
<rect x="279.64" y="711.20" width="4.93" height="67.80" fill="url(#prdb)" stroke="#8c8c8c" stroke-width="0.75"/>
<rect x="284.57" y="771.70" width="4.93" height="7.30" fill="url(#bwdb)" stroke="#555555" stroke-width="0.75"/>
<rect x="289.50" y="715.10" width="4.93" height="63.90" fill="url(#rwdb)" stroke="#555555" stroke-width="0.75"/>
<line x1="267.31" y1="773.40" x2="267.31" y2="771.60" stroke="#8a8a8a" stroke-width="0.9" />
<line x1="266.62" y1="771.60" x2="268.01" y2="771.60" stroke="#555" stroke-width="0.8" />
<circle cx="267.02" cy="771.60" r="0.95" fill="#111"/>
<circle cx="267.30" cy="774.09" r="0.95" fill="#111"/>
<circle cx="267.58" cy="775.10" r="0.95" fill="#111"/>
<line x1="272.25" y1="715.80" x2="272.25" y2="708.40" stroke="#8a8a8a" stroke-width="0.9" />
<line x1="271.55" y1="708.40" x2="272.94" y2="708.40" stroke="#555" stroke-width="0.8" />
<circle cx="272.15" cy="708.40" r="0.95" fill="#111"/>
<circle cx="272.45" cy="719.48" r="0.95" fill="#111"/>
<circle cx="272.00" cy="721.99" r="0.95" fill="#111"/>
<line x1="277.18" y1="773.40" x2="277.18" y2="772.00" stroke="#8a8a8a" stroke-width="0.9" />
<line x1="276.48" y1="772.00" x2="277.88" y2="772.00" stroke="#555" stroke-width="0.8" />
<circle cx="276.94" cy="772.00" r="0.95" fill="#111"/>
<circle cx="277.11" cy="773.75" r="0.95" fill="#111"/>
<circle cx="277.34" cy="774.50" r="0.95" fill="#111"/>
<line x1="282.11" y1="711.20" x2="282.11" y2="706.20" stroke="#8a8a8a" stroke-width="0.9" />
<line x1="281.41" y1="706.20" x2="282.81" y2="706.20" stroke="#555" stroke-width="0.8" />
<circle cx="282.04" cy="706.20" r="0.95" fill="#111"/>
<circle cx="282.40" cy="713.58" r="0.95" fill="#111"/>
<circle cx="282.32" cy="715.90" r="0.95" fill="#111"/>
<line x1="287.04" y1="771.70" x2="287.04" y2="770.00" stroke="#8a8a8a" stroke-width="0.9" />
<line x1="286.34" y1="770.00" x2="287.74" y2="770.00" stroke="#555" stroke-width="0.8" />
<circle cx="286.89" cy="770.00" r="0.95" fill="#111"/>
<circle cx="287.12" cy="772.45" r="0.95" fill="#111"/>
<circle cx="286.97" cy="772.75" r="0.95" fill="#111"/>
<line x1="291.96" y1="715.10" x2="291.96" y2="710.40" stroke="#8a8a8a" stroke-width="0.9" />
<line x1="291.26" y1="710.40" x2="292.66" y2="710.40" stroke="#555" stroke-width="0.8" />
<circle cx="291.79" cy="710.40" r="0.95" fill="#111"/>
<circle cx="291.72" cy="716.83" r="0.95" fill="#111"/>
<circle cx="292.20" cy="718.80" r="0.95" fill="#111"/>
<rect x="304.75" y="769.20" width="4.93" height="9.80" fill="#3f8cf5" stroke="#4a4a4a" stroke-width="0.75"/>
<rect x="309.68" y="745.30" width="4.93" height="33.70" fill="#f5474d" stroke="#4a4a4a" stroke-width="0.75"/>
<rect x="314.61" y="770.50" width="4.93" height="8.50" fill="url(#pbdb)" stroke="#8c8c8c" stroke-width="0.75"/>
<rect x="319.54" y="744.00" width="4.93" height="35.00" fill="url(#prdb)" stroke="#8c8c8c" stroke-width="0.75"/>
<rect x="324.47" y="772.20" width="4.93" height="6.80" fill="url(#bwdb)" stroke="#555555" stroke-width="0.75"/>
<rect x="329.40" y="746.50" width="4.93" height="32.50" fill="url(#rwdb)" stroke="#555555" stroke-width="0.75"/>
<line x1="307.21" y1="769.20" x2="307.21" y2="765.40" stroke="#8a8a8a" stroke-width="0.9" />
<line x1="306.51" y1="765.40" x2="307.91" y2="765.40" stroke="#555" stroke-width="0.8" />
<circle cx="307.18" cy="765.40" r="0.95" fill="#111"/>
<circle cx="307.29" cy="770.15" r="0.95" fill="#111"/>
<circle cx="307.06" cy="771.84" r="0.95" fill="#111"/>
<line x1="312.14" y1="745.30" x2="312.14" y2="737.60" stroke="#8a8a8a" stroke-width="0.9" />
<line x1="311.44" y1="737.60" x2="312.84" y2="737.60" stroke="#555" stroke-width="0.8" />
<circle cx="312.03" cy="737.60" r="0.95" fill="#111"/>
<circle cx="312.04" cy="747.86" r="0.95" fill="#111"/>
<circle cx="311.85" cy="751.27" r="0.95" fill="#111"/>
<line x1="317.07" y1="770.50" x2="317.07" y2="770.00" stroke="#8a8a8a" stroke-width="0.9" />
<line x1="316.38" y1="770.00" x2="317.77" y2="770.00" stroke="#555" stroke-width="0.8" />
<circle cx="317.04" cy="769.70" r="0.95" fill="#111"/>
<circle cx="316.79" cy="770.69" r="0.95" fill="#111"/>
<circle cx="317.24" cy="771.28" r="0.95" fill="#111"/>
<line x1="322.00" y1="744.00" x2="322.00" y2="741.00" stroke="#8a8a8a" stroke-width="0.9" />
<line x1="321.31" y1="741.00" x2="322.70" y2="741.00" stroke="#555" stroke-width="0.8" />
<circle cx="321.83" cy="741.00" r="0.95" fill="#111"/>
<circle cx="321.77" cy="744.94" r="0.95" fill="#111"/>
<circle cx="321.95" cy="746.53" r="0.95" fill="#111"/>
<line x1="326.94" y1="772.20" x2="326.94" y2="768.00" stroke="#8a8a8a" stroke-width="0.9" />
<line x1="326.24" y1="768.00" x2="327.63" y2="768.00" stroke="#555" stroke-width="0.8" />
<circle cx="326.79" cy="768.00" r="0.95" fill="#111"/>
<circle cx="326.91" cy="773.43" r="0.95" fill="#111"/>
<circle cx="327.16" cy="775.32" r="0.95" fill="#111"/>
<line x1="331.86" y1="746.50" x2="331.86" y2="742.30" stroke="#8a8a8a" stroke-width="0.9" />
<line x1="331.16" y1="742.30" x2="332.56" y2="742.30" stroke="#555" stroke-width="0.8" />
<circle cx="331.88" cy="742.30" r="0.95" fill="#111"/>
<circle cx="331.92" cy="748.06" r="0.95" fill="#111"/>
<circle cx="331.88" cy="750.42" r="0.95" fill="#111"/>
<rect x="344.85" y="767.50" width="4.93" height="11.50" fill="#3f8cf5" stroke="#4a4a4a" stroke-width="0.75"/>
<rect x="349.78" y="750.40" width="4.93" height="28.60" fill="#f5474d" stroke="#4a4a4a" stroke-width="0.75"/>
<rect x="354.71" y="770.00" width="4.93" height="9.00" fill="url(#pbdb)" stroke="#8c8c8c" stroke-width="0.75"/>
<rect x="359.64" y="755.70" width="4.93" height="23.30" fill="url(#prdb)" stroke="#8c8c8c" stroke-width="0.75"/>
<rect x="364.57" y="769.50" width="4.93" height="9.50" fill="url(#bwdb)" stroke="#555555" stroke-width="0.75"/>
<rect x="369.50" y="750.70" width="4.93" height="28.30" fill="url(#rwdb)" stroke="#555555" stroke-width="0.75"/>
<line x1="347.31" y1="767.50" x2="347.31" y2="761.60" stroke="#8a8a8a" stroke-width="0.9" />
<line x1="346.62" y1="761.60" x2="348.01" y2="761.60" stroke="#555" stroke-width="0.8" />
<circle cx="347.60" cy="761.60" r="0.95" fill="#111"/>
<circle cx="347.16" cy="768.77" r="0.95" fill="#111"/>
<circle cx="347.06" cy="771.41" r="0.95" fill="#111"/>
<line x1="352.25" y1="750.40" x2="352.25" y2="743.10" stroke="#8a8a8a" stroke-width="0.9" />
<line x1="351.55" y1="743.10" x2="352.94" y2="743.10" stroke="#555" stroke-width="0.8" />
<circle cx="352.18" cy="743.10" r="0.95" fill="#111"/>
<circle cx="352.38" cy="752.09" r="0.95" fill="#111"/>
<circle cx="352.15" cy="756.32" r="0.95" fill="#111"/>
<line x1="357.18" y1="770.00" x2="357.18" y2="767.20" stroke="#8a8a8a" stroke-width="0.9" />
<line x1="356.48" y1="767.20" x2="357.88" y2="767.20" stroke="#555" stroke-width="0.8" />
<circle cx="356.96" cy="767.20" r="0.95" fill="#111"/>
<circle cx="357.22" cy="770.70" r="0.95" fill="#111"/>
<circle cx="357.34" cy="772.55" r="0.95" fill="#111"/>
<line x1="362.11" y1="755.70" x2="362.11" y2="747.30" stroke="#8a8a8a" stroke-width="0.9" />
<line x1="361.41" y1="747.30" x2="362.81" y2="747.30" stroke="#555" stroke-width="0.8" />
<circle cx="362.05" cy="747.30" r="0.95" fill="#111"/>
<circle cx="361.88" cy="757.99" r="0.95" fill="#111"/>
<circle cx="362.18" cy="761.42" r="0.95" fill="#111"/>
<line x1="367.04" y1="769.50" x2="367.04" y2="764.10" stroke="#8a8a8a" stroke-width="0.9" />
<line x1="366.34" y1="764.10" x2="367.74" y2="764.10" stroke="#555" stroke-width="0.8" />
<circle cx="366.76" cy="764.10" r="0.95" fill="#111"/>
<circle cx="367.06" cy="771.52" r="0.95" fill="#111"/>
<circle cx="366.80" cy="774.57" r="0.95" fill="#111"/>
<line x1="371.96" y1="750.70" x2="371.96" y2="748.20" stroke="#8a8a8a" stroke-width="0.9" />
<line x1="371.26" y1="748.20" x2="372.66" y2="748.20" stroke="#555" stroke-width="0.8" />
<circle cx="371.89" cy="748.20" r="0.95" fill="#111"/>
<circle cx="372.07" cy="751.90" r="0.95" fill="#111"/>
<circle cx="371.97" cy="752.80" r="0.95" fill="#111"/>
<path d="M268.40,682.20 V677.70 H290.60 V703.70" fill="none" stroke="#333" stroke-width="0.85" />
<line x1="264.20" y1="682.20" x2="273.50" y2="682.20" stroke="#333" stroke-width="0.85" />
<line x1="286.60" y1="703.70" x2="295.60" y2="703.70" stroke="#333" stroke-width="0.85" />
<text x="278.50" y="676.70" font-size="9.4" text-anchor="middle" textLength="9.70" lengthAdjust="spacingAndGlyphs" fill="#444" >ns</text>
<path d="M267.60,698.30 V693.60 H278.50 V695.30" fill="none" stroke="#333" stroke-width="0.85" />
<line x1="263.40" y1="698.30" x2="272.60" y2="698.30" stroke="#333" stroke-width="0.85" />
<line x1="274.80" y1="695.30" x2="283.20" y2="695.30" stroke="#333" stroke-width="0.85" />
<text x="272.60" y="692.40" font-size="9.4" text-anchor="middle" textLength="9.70" lengthAdjust="spacingAndGlyphs" fill="#444" >ns</text>
<path d="M308.70,706.70 V702.00 H330.60 V736.40" fill="none" stroke="#333" stroke-width="0.85" />
<line x1="304.50" y1="706.70" x2="313.80" y2="706.70" stroke="#333" stroke-width="0.85" />
<line x1="326.40" y1="736.40" x2="335.60" y2="736.40" stroke="#333" stroke-width="0.85" />
<text x="318.80" y="700.60" font-size="9.4" text-anchor="middle" textLength="9.70" lengthAdjust="spacingAndGlyphs" fill="#444" >ns</text>
<path d="M309.60,721.30 V717.10 H320.50 V733.60" fill="none" stroke="#333" stroke-width="0.85" />
<line x1="304.50" y1="721.30" x2="313.80" y2="721.30" stroke="#333" stroke-width="0.85" />
<line x1="315.80" y1="733.60" x2="324.70" y2="733.60" stroke="#333" stroke-width="0.85" />
<text x="314.10" y="714.80" font-size="9.4" text-anchor="middle" textLength="9.70" lengthAdjust="spacingAndGlyphs" fill="#444" >ns</text>
<path d="M348.10,723.80 V719.30 H371.10 V737.30" fill="none" stroke="#333" stroke-width="0.85" />
<line x1="343.80" y1="723.80" x2="353.50" y2="723.80" stroke="#333" stroke-width="0.85" />
<line x1="366.60" y1="737.30" x2="375.70" y2="737.30" stroke="#333" stroke-width="0.85" />
<text x="358.50" y="718.20" font-size="9.4" text-anchor="middle" textLength="9.70" lengthAdjust="spacingAndGlyphs" fill="#444" >ns</text>
<path d="M349.80,737.00 V732.20 H360.60 V742.00" fill="none" stroke="#333" stroke-width="0.85" />
<line x1="345.10" y1="737.00" x2="354.80" y2="737.00" stroke="#333" stroke-width="0.85" />
<line x1="356.50" y1="742.00" x2="365.60" y2="742.00" stroke="#333" stroke-width="0.85" />
<text x="354.80" y="731.60" font-size="9.4" text-anchor="middle" textLength="9.70" lengthAdjust="spacingAndGlyphs" fill="#444" >ns</text>
<text x="0" y="0" font-size="6.9" textLength="22.00" lengthAdjust="spacingAndGlyphs" fill="#222" transform="translate(158.40 790.77) rotate(45)">PGR (-)</text>
<text x="0" y="0" font-size="6.9" textLength="25.50" lengthAdjust="spacingAndGlyphs" fill="#222" transform="translate(198.70 790.77) rotate(45)">RARA (-)</text>
<text x="0" y="0" font-size="6.9" textLength="13.00" lengthAdjust="spacingAndGlyphs" fill="#222" transform="translate(279.30 790.77) rotate(45)">MYB</text>
<text x="0" y="0" font-size="6.9" textLength="23.00" lengthAdjust="spacingAndGlyphs" fill="#222" transform="translate(317.90 790.77) rotate(45)">STK17A</text>
<text x="0" y="0" font-size="6.9" textLength="18.50" lengthAdjust="spacingAndGlyphs" fill="#222" transform="translate(358.90 790.77) rotate(45)">IGF1R</text>
<path d="M475.80,526.60 V637.60 H626.7" fill="none" stroke="#444" stroke-width="1.0" />
<line x1="474.20" y1="529.50" x2="475.80" y2="529.50" stroke="#444" stroke-width="0.8" />
<line x1="474.20" y1="550.30" x2="475.80" y2="550.30" stroke="#444" stroke-width="0.8" />
<line x1="474.20" y1="570.70" x2="475.80" y2="570.70" stroke="#444" stroke-width="0.8" />
<line x1="474.20" y1="591.10" x2="475.80" y2="591.10" stroke="#444" stroke-width="0.8" />
<line x1="474.20" y1="611.60" x2="475.80" y2="611.60" stroke="#444" stroke-width="0.8" />
<line x1="474.20" y1="632.20" x2="475.80" y2="632.20" stroke="#444" stroke-width="0.8" />
<rect x="487.30" y="611.30" width="5.40" height="21.00" fill="#3f8cf5" stroke="#4a4a4a" stroke-width="0.75"/>
<rect x="493.42" y="588.70" width="5.40" height="43.60" fill="#f5474d" stroke="#4a4a4a" stroke-width="0.75"/>
<rect x="499.54" y="612.70" width="5.40" height="19.60" fill="url(#pbrt)" stroke="#8c8c8c" stroke-width="0.75"/>
<rect x="505.66" y="604.40" width="5.40" height="27.90" fill="url(#prrt)" stroke="#8c8c8c" stroke-width="0.75"/>
<rect x="511.78" y="615.20" width="5.40" height="17.10" fill="url(#bwrt)" stroke="#555555" stroke-width="0.75"/>
<rect x="517.90" y="607.70" width="5.40" height="24.60" fill="url(#rwrt)" stroke="#555555" stroke-width="0.75"/>
<line x1="490.00" y1="611.30" x2="490.00" y2="608.50" stroke="#8a8a8a" stroke-width="0.9" />
<line x1="489.30" y1="608.50" x2="490.70" y2="608.50" stroke="#555" stroke-width="0.8" />
<circle cx="489.99" cy="608.50" r="0.95" fill="#111"/>
<circle cx="489.70" cy="612.50" r="0.95" fill="#111"/>
<circle cx="490.24" cy="613.64" r="0.95" fill="#111"/>
<line x1="496.12" y1="588.70" x2="496.12" y2="584.50" stroke="#8a8a8a" stroke-width="0.9" />
<line x1="495.42" y1="584.50" x2="496.82" y2="584.50" stroke="#555" stroke-width="0.8" />
<circle cx="495.94" cy="584.50" r="0.95" fill="#111"/>
<circle cx="495.97" cy="590.02" r="0.95" fill="#111"/>
<circle cx="496.22" cy="592.75" r="0.95" fill="#111"/>
<line x1="502.24" y1="612.70" x2="502.24" y2="611.00" stroke="#8a8a8a" stroke-width="0.9" />
<line x1="501.54" y1="611.00" x2="502.94" y2="611.00" stroke="#555" stroke-width="0.8" />
<circle cx="502.34" cy="611.00" r="0.95" fill="#111"/>
<circle cx="502.41" cy="613.46" r="0.95" fill="#111"/>
<circle cx="501.94" cy="614.18" r="0.95" fill="#111"/>
<line x1="508.36" y1="604.40" x2="508.36" y2="603.00" stroke="#8a8a8a" stroke-width="0.9" />
<line x1="507.66" y1="603.00" x2="509.06" y2="603.00" stroke="#555" stroke-width="0.8" />
<circle cx="508.19" cy="603.00" r="0.95" fill="#111"/>
<circle cx="508.48" cy="605.01" r="0.95" fill="#111"/>
<circle cx="508.52" cy="605.40" r="0.95" fill="#111"/>
<line x1="514.48" y1="615.20" x2="514.48" y2="612.50" stroke="#8a8a8a" stroke-width="0.9" />
<line x1="513.78" y1="612.50" x2="515.18" y2="612.50" stroke="#555" stroke-width="0.8" />
<circle cx="514.67" cy="612.50" r="0.95" fill="#111"/>
<circle cx="514.47" cy="615.86" r="0.95" fill="#111"/>
<circle cx="514.36" cy="617.35" r="0.95" fill="#111"/>
<line x1="520.60" y1="607.70" x2="520.60" y2="603.50" stroke="#8a8a8a" stroke-width="0.9" />
<line x1="519.90" y1="603.50" x2="521.30" y2="603.50" stroke="#555" stroke-width="0.8" />
<circle cx="520.70" cy="603.50" r="0.95" fill="#111"/>
<circle cx="520.81" cy="609.58" r="0.95" fill="#111"/>
<circle cx="520.74" cy="610.93" r="0.95" fill="#111"/>
<line x1="505.50" y1="637.60" x2="505.50" y2="639.00" stroke="#444" stroke-width="0.7" />
<rect x="537.00" y="611.10" width="5.40" height="21.20" fill="#3f8cf5" stroke="#4a4a4a" stroke-width="0.75"/>
<rect x="543.12" y="582.00" width="5.40" height="50.30" fill="#f5474d" stroke="#4a4a4a" stroke-width="0.75"/>
<rect x="549.24" y="612.20" width="5.40" height="20.10" fill="url(#pbrt)" stroke="#8c8c8c" stroke-width="0.75"/>
<rect x="555.36" y="601.00" width="5.40" height="31.30" fill="url(#prrt)" stroke="#8c8c8c" stroke-width="0.75"/>
<rect x="561.48" y="611.90" width="5.40" height="20.40" fill="url(#bwrt)" stroke="#555555" stroke-width="0.75"/>
<rect x="567.60" y="610.00" width="5.40" height="22.30" fill="url(#rwrt)" stroke="#555555" stroke-width="0.75"/>
<line x1="539.70" y1="611.10" x2="539.70" y2="610.50" stroke="#8a8a8a" stroke-width="0.9" />
<line x1="539.00" y1="610.50" x2="540.40" y2="610.50" stroke="#555" stroke-width="0.8" />
<circle cx="539.58" cy="610.30" r="0.95" fill="#111"/>
<circle cx="539.63" cy="611.43" r="0.95" fill="#111"/>
<circle cx="539.40" cy="611.64" r="0.95" fill="#111"/>
<line x1="545.82" y1="582.00" x2="545.82" y2="578.40" stroke="#8a8a8a" stroke-width="0.9" />
<line x1="545.12" y1="578.40" x2="546.52" y2="578.40" stroke="#555" stroke-width="0.8" />
<circle cx="545.84" cy="578.40" r="0.95" fill="#111"/>
<circle cx="546.02" cy="583.17" r="0.95" fill="#111"/>
<circle cx="545.70" cy="584.82" r="0.95" fill="#111"/>
<line x1="551.94" y1="612.20" x2="551.94" y2="610.50" stroke="#8a8a8a" stroke-width="0.9" />
<line x1="551.24" y1="610.50" x2="552.64" y2="610.50" stroke="#555" stroke-width="0.8" />
<circle cx="551.91" cy="610.50" r="0.95" fill="#111"/>
<circle cx="551.91" cy="612.57" r="0.95" fill="#111"/>
<circle cx="552.23" cy="613.61" r="0.95" fill="#111"/>
<line x1="558.06" y1="601.00" x2="558.06" y2="597.00" stroke="#8a8a8a" stroke-width="0.9" />
<line x1="557.36" y1="597.00" x2="558.76" y2="597.00" stroke="#555" stroke-width="0.8" />
<circle cx="557.84" cy="597.00" r="0.95" fill="#111"/>
<circle cx="558.09" cy="602.39" r="0.95" fill="#111"/>
<circle cx="558.05" cy="604.67" r="0.95" fill="#111"/>
<line x1="564.18" y1="611.90" x2="564.18" y2="610.50" stroke="#8a8a8a" stroke-width="0.9" />
<line x1="563.48" y1="610.50" x2="564.88" y2="610.50" stroke="#555" stroke-width="0.8" />
<circle cx="564.38" cy="610.50" r="0.95" fill="#111"/>
<circle cx="563.98" cy="612.33" r="0.95" fill="#111"/>
<circle cx="564.47" cy="612.98" r="0.95" fill="#111"/>
<line x1="570.30" y1="610.00" x2="570.30" y2="603.60" stroke="#8a8a8a" stroke-width="0.9" />
<line x1="569.60" y1="603.60" x2="571.00" y2="603.60" stroke="#555" stroke-width="0.8" />
<circle cx="570.39" cy="603.60" r="0.95" fill="#111"/>
<circle cx="570.24" cy="613.07" r="0.95" fill="#111"/>
<circle cx="570.14" cy="613.92" r="0.95" fill="#111"/>
<line x1="555.20" y1="637.60" x2="555.20" y2="639.00" stroke="#444" stroke-width="0.7" />
<rect x="586.50" y="611.10" width="5.40" height="21.20" fill="#3f8cf5" stroke="#4a4a4a" stroke-width="0.75"/>
<rect x="592.62" y="585.40" width="5.40" height="46.90" fill="#f5474d" stroke="#4a4a4a" stroke-width="0.75"/>
<rect x="598.74" y="612.70" width="5.40" height="19.60" fill="url(#pbrt)" stroke="#8c8c8c" stroke-width="0.75"/>
<rect x="604.86" y="607.20" width="5.40" height="25.10" fill="url(#prrt)" stroke="#8c8c8c" stroke-width="0.75"/>
<rect x="610.98" y="614.20" width="5.40" height="18.10" fill="url(#bwrt)" stroke="#555555" stroke-width="0.75"/>
<rect x="617.10" y="604.10" width="5.40" height="28.20" fill="url(#rwrt)" stroke="#555555" stroke-width="0.75"/>
<line x1="589.20" y1="611.10" x2="589.20" y2="607.70" stroke="#8a8a8a" stroke-width="0.9" />
<line x1="588.50" y1="607.70" x2="589.90" y2="607.70" stroke="#555" stroke-width="0.8" />
<circle cx="589.49" cy="607.70" r="0.95" fill="#111"/>
<circle cx="589.12" cy="612.53" r="0.95" fill="#111"/>
<circle cx="589.31" cy="613.30" r="0.95" fill="#111"/>
<line x1="595.32" y1="585.40" x2="595.32" y2="584.00" stroke="#8a8a8a" stroke-width="0.9" />
<line x1="594.62" y1="584.00" x2="596.02" y2="584.00" stroke="#555" stroke-width="0.8" />
<circle cx="595.26" cy="584.00" r="0.95" fill="#111"/>
<circle cx="595.20" cy="585.88" r="0.95" fill="#111"/>
<circle cx="595.09" cy="586.59" r="0.95" fill="#111"/>
<line x1="601.44" y1="612.70" x2="601.44" y2="611.00" stroke="#8a8a8a" stroke-width="0.9" />
<line x1="600.74" y1="611.00" x2="602.14" y2="611.00" stroke="#555" stroke-width="0.8" />
<circle cx="601.73" cy="611.00" r="0.95" fill="#111"/>
<circle cx="601.50" cy="613.28" r="0.95" fill="#111"/>
<circle cx="601.54" cy="613.85" r="0.95" fill="#111"/>
<line x1="607.56" y1="607.20" x2="607.56" y2="606.00" stroke="#8a8a8a" stroke-width="0.9" />
<line x1="606.86" y1="606.00" x2="608.26" y2="606.00" stroke="#555" stroke-width="0.8" />
<circle cx="607.34" cy="606.00" r="0.95" fill="#111"/>
<circle cx="607.41" cy="607.58" r="0.95" fill="#111"/>
<circle cx="607.70" cy="608.25" r="0.95" fill="#111"/>
<line x1="613.68" y1="614.20" x2="613.68" y2="612.00" stroke="#8a8a8a" stroke-width="0.9" />
<line x1="612.98" y1="612.00" x2="614.38" y2="612.00" stroke="#555" stroke-width="0.8" />
<circle cx="613.97" cy="612.00" r="0.95" fill="#111"/>
<circle cx="613.72" cy="615.20" r="0.95" fill="#111"/>
<circle cx="613.55" cy="616.17" r="0.95" fill="#111"/>
<line x1="619.80" y1="604.10" x2="619.80" y2="601.00" stroke="#8a8a8a" stroke-width="0.9" />
<line x1="619.10" y1="601.00" x2="620.50" y2="601.00" stroke="#555" stroke-width="0.8" />
<circle cx="619.71" cy="601.00" r="0.95" fill="#111"/>
<circle cx="619.65" cy="604.84" r="0.95" fill="#111"/>
<circle cx="620.09" cy="606.28" r="0.95" fill="#111"/>
<line x1="604.70" y1="637.60" x2="604.70" y2="639.00" stroke="#444" stroke-width="0.7" />
<path d="M493.00,561.30 V556.60 H519.70 V594.00" fill="none" stroke="#333" stroke-width="0.85" />
<line x1="487.30" y1="561.30" x2="499.50" y2="561.30" stroke="#333" stroke-width="0.85" />
<line x1="513.20" y1="594.00" x2="525.40" y2="594.00" stroke="#333" stroke-width="0.85" />
<text x="506.00" y="558.68" font-size="9.2" text-anchor="middle" textLength="10.80" lengthAdjust="spacingAndGlyphs" fill="#222" >***</text>
<path d="M493.00,574.30 V569.50 H506.70 V590.40" fill="none" stroke="#333" stroke-width="0.85" />
<line x1="487.30" y1="574.30" x2="499.50" y2="574.30" stroke="#333" stroke-width="0.85" />
<line x1="500.20" y1="590.40" x2="512.50" y2="590.40" stroke="#333" stroke-width="0.85" />
<text x="499.50" y="571.38" font-size="9.2" text-anchor="middle" textLength="10.80" lengthAdjust="spacingAndGlyphs" fill="#222" >***</text>
<path d="M542.50,554.50 V549.20 H569.00 V587.40" fill="none" stroke="#333" stroke-width="0.85" />
<line x1="537.00" y1="554.50" x2="548.70" y2="554.50" stroke="#333" stroke-width="0.85" />
<line x1="563.00" y1="587.40" x2="575.00" y2="587.40" stroke="#333" stroke-width="0.85" />
<text x="555.70" y="551.58" font-size="9.2" text-anchor="middle" textLength="14.70" lengthAdjust="spacingAndGlyphs" fill="#222" >****</text>
<path d="M542.50,567.40 V562.40 H555.70 V586.20" fill="none" stroke="#333" stroke-width="0.85" />
<line x1="537.00" y1="567.40" x2="548.70" y2="567.40" stroke="#333" stroke-width="0.85" />
<line x1="550.00" y1="586.20" x2="562.00" y2="586.20" stroke="#333" stroke-width="0.85" />
<text x="549.00" y="564.58" font-size="9.2" text-anchor="middle" textLength="10.80" lengthAdjust="spacingAndGlyphs" fill="#222" >***</text>
<path d="M592.40,558.50 V553.40 H618.90 V591.60" fill="none" stroke="#333" stroke-width="0.85" />
<line x1="586.50" y1="558.50" x2="598.60" y2="558.50" stroke="#333" stroke-width="0.85" />
<line x1="612.70" y1="591.60" x2="624.90" y2="591.60" stroke="#333" stroke-width="0.85" />
<text x="605.70" y="555.58" font-size="9.2" text-anchor="middle" textLength="10.80" lengthAdjust="spacingAndGlyphs" fill="#222" >***</text>
<path d="M592.40,571.70 V566.70 H605.70 V590.00" fill="none" stroke="#333" stroke-width="0.85" />
<line x1="586.50" y1="571.70" x2="598.60" y2="571.70" stroke="#333" stroke-width="0.85" />
<line x1="599.90" y1="590.00" x2="611.90" y2="590.00" stroke="#333" stroke-width="0.85" />
<text x="599.00" y="568.58" font-size="9.2" text-anchor="middle" textLength="14.70" lengthAdjust="spacingAndGlyphs" fill="#222" >****</text>
<text x="0" y="0" font-size="6.9" textLength="14.10" lengthAdjust="spacingAndGlyphs" fill="#222" transform="translate(494.90 644.87) rotate(45)">CISH</text>
<text x="0" y="0" font-size="6.9" textLength="12.70" lengthAdjust="spacingAndGlyphs" fill="#222" transform="translate(550.00 644.47) rotate(45)">PGR</text>
<text x="0" y="0" font-size="6.9" textLength="17.40" lengthAdjust="spacingAndGlyphs" fill="#222" transform="translate(605.80 644.47) rotate(45)">RARA</text>
<path d="M475.80,671.80 V783.40 H626.7" fill="none" stroke="#444" stroke-width="1.0" />
<line x1="474.20" y1="676.00" x2="475.80" y2="676.00" stroke="#444" stroke-width="0.8" />
<line x1="474.20" y1="696.60" x2="475.80" y2="696.60" stroke="#444" stroke-width="0.8" />
<line x1="474.20" y1="717.10" x2="475.80" y2="717.10" stroke="#444" stroke-width="0.8" />
<line x1="474.20" y1="737.60" x2="475.80" y2="737.60" stroke="#444" stroke-width="0.8" />
<line x1="474.20" y1="758.20" x2="475.80" y2="758.20" stroke="#444" stroke-width="0.8" />
<line x1="474.20" y1="778.40" x2="475.80" y2="778.40" stroke="#444" stroke-width="0.8" />
<rect x="486.80" y="758.20" width="5.40" height="20.20" fill="#3f8cf5" stroke="#4a4a4a" stroke-width="0.75"/>
<rect x="492.92" y="711.20" width="5.40" height="67.20" fill="#f5474d" stroke="#4a4a4a" stroke-width="0.75"/>
<rect x="499.04" y="756.50" width="5.40" height="21.90" fill="url(#pbrb)" stroke="#8c8c8c" stroke-width="0.75"/>
<rect x="505.16" y="717.10" width="5.40" height="61.30" fill="url(#prrb)" stroke="#8c8c8c" stroke-width="0.75"/>
<rect x="511.28" y="756.00" width="5.40" height="22.40" fill="url(#bwrb)" stroke="#555555" stroke-width="0.75"/>
<rect x="517.40" y="712.60" width="5.40" height="65.80" fill="url(#rwrb)" stroke="#555555" stroke-width="0.75"/>
<line x1="489.50" y1="758.20" x2="489.50" y2="757.60" stroke="#8a8a8a" stroke-width="0.9" />
<line x1="488.80" y1="757.60" x2="490.20" y2="757.60" stroke="#555" stroke-width="0.8" />
<circle cx="489.66" cy="757.40" r="0.95" fill="#111"/>
<circle cx="489.41" cy="758.40" r="0.95" fill="#111"/>
<circle cx="489.78" cy="758.81" r="0.95" fill="#111"/>
<line x1="495.62" y1="711.20" x2="495.62" y2="698.30" stroke="#8a8a8a" stroke-width="0.9" />
<line x1="494.92" y1="698.30" x2="496.32" y2="698.30" stroke="#555" stroke-width="0.8" />
<circle cx="495.88" cy="698.30" r="0.95" fill="#111"/>
<circle cx="495.46" cy="715.40" r="0.95" fill="#111"/>
<circle cx="495.32" cy="721.33" r="0.95" fill="#111"/>
<line x1="501.74" y1="756.50" x2="501.74" y2="750.70" stroke="#8a8a8a" stroke-width="0.9" />
<line x1="501.04" y1="750.70" x2="502.44" y2="750.70" stroke="#555" stroke-width="0.8" />
<circle cx="501.85" cy="750.70" r="0.95" fill="#111"/>
<circle cx="501.87" cy="757.99" r="0.95" fill="#111"/>
<circle cx="501.92" cy="762.24" r="0.95" fill="#111"/>
<line x1="507.86" y1="717.10" x2="507.86" y2="710.00" stroke="#8a8a8a" stroke-width="0.9" />
<line x1="507.16" y1="710.00" x2="508.56" y2="710.00" stroke="#555" stroke-width="0.8" />
<circle cx="507.79" cy="710.00" r="0.95" fill="#111"/>
<circle cx="508.02" cy="719.74" r="0.95" fill="#111"/>
<circle cx="507.89" cy="721.46" r="0.95" fill="#111"/>
<line x1="513.98" y1="756.00" x2="513.98" y2="751.20" stroke="#8a8a8a" stroke-width="0.9" />
<line x1="513.28" y1="751.20" x2="514.68" y2="751.20" stroke="#555" stroke-width="0.8" />
<circle cx="513.78" cy="751.20" r="0.95" fill="#111"/>
<circle cx="514.20" cy="757.87" r="0.95" fill="#111"/>
<circle cx="514.24" cy="758.90" r="0.95" fill="#111"/>
<line x1="520.10" y1="712.60" x2="520.10" y2="705.70" stroke="#8a8a8a" stroke-width="0.9" />
<line x1="519.40" y1="705.70" x2="520.80" y2="705.70" stroke="#555" stroke-width="0.8" />
<circle cx="519.94" cy="705.70" r="0.95" fill="#111"/>
<circle cx="520.34" cy="714.24" r="0.95" fill="#111"/>
<circle cx="519.81" cy="718.51" r="0.95" fill="#111"/>
<line x1="505.00" y1="783.40" x2="505.00" y2="784.80" stroke="#444" stroke-width="0.7" />
<rect x="536.60" y="758.10" width="5.40" height="20.30" fill="#3f8cf5" stroke="#4a4a4a" stroke-width="0.75"/>
<rect x="542.72" y="740.60" width="5.40" height="37.80" fill="#f5474d" stroke="#4a4a4a" stroke-width="0.75"/>
<rect x="548.84" y="756.20" width="5.40" height="22.20" fill="url(#pbrb)" stroke="#8c8c8c" stroke-width="0.75"/>
<rect x="554.96" y="738.70" width="5.40" height="39.70" fill="url(#prrb)" stroke="#8c8c8c" stroke-width="0.75"/>
<rect x="561.08" y="758.10" width="5.40" height="20.30" fill="url(#bwrb)" stroke="#555555" stroke-width="0.75"/>
<rect x="567.20" y="736.90" width="5.40" height="41.50" fill="url(#rwrb)" stroke="#555555" stroke-width="0.75"/>
<line x1="539.30" y1="758.10" x2="539.30" y2="751.20" stroke="#8a8a8a" stroke-width="0.9" />
<line x1="538.60" y1="751.20" x2="540.00" y2="751.20" stroke="#555" stroke-width="0.8" />
<circle cx="539.49" cy="751.20" r="0.95" fill="#111"/>
<circle cx="539.05" cy="760.03" r="0.95" fill="#111"/>
<circle cx="539.24" cy="763.22" r="0.95" fill="#111"/>
<line x1="545.42" y1="740.60" x2="545.42" y2="739.50" stroke="#8a8a8a" stroke-width="0.9" />
<line x1="544.72" y1="739.50" x2="546.12" y2="739.50" stroke="#555" stroke-width="0.8" />
<circle cx="545.14" cy="739.50" r="0.95" fill="#111"/>
<circle cx="545.45" cy="741.09" r="0.95" fill="#111"/>
<circle cx="545.15" cy="741.30" r="0.95" fill="#111"/>
<line x1="551.54" y1="756.20" x2="551.54" y2="752.30" stroke="#8a8a8a" stroke-width="0.9" />
<line x1="550.84" y1="752.30" x2="552.24" y2="752.30" stroke="#555" stroke-width="0.8" />
<circle cx="551.79" cy="752.30" r="0.95" fill="#111"/>
<circle cx="551.46" cy="757.03" r="0.95" fill="#111"/>
<circle cx="551.62" cy="759.37" r="0.95" fill="#111"/>
<line x1="557.66" y1="738.70" x2="557.66" y2="731.10" stroke="#8a8a8a" stroke-width="0.9" />
<line x1="556.96" y1="731.10" x2="558.36" y2="731.10" stroke="#555" stroke-width="0.8" />
<circle cx="557.76" cy="731.10" r="0.95" fill="#111"/>
<circle cx="557.59" cy="742.28" r="0.95" fill="#111"/>
<circle cx="557.42" cy="744.63" r="0.95" fill="#111"/>
<line x1="563.78" y1="758.10" x2="563.78" y2="751.50" stroke="#8a8a8a" stroke-width="0.9" />
<line x1="563.08" y1="751.50" x2="564.48" y2="751.50" stroke="#555" stroke-width="0.8" />
<circle cx="563.79" cy="751.50" r="0.95" fill="#111"/>
<circle cx="563.76" cy="761.24" r="0.95" fill="#111"/>
<circle cx="563.52" cy="762.89" r="0.95" fill="#111"/>
<line x1="569.90" y1="736.90" x2="569.90" y2="731.10" stroke="#8a8a8a" stroke-width="0.9" />
<line x1="569.20" y1="731.10" x2="570.60" y2="731.10" stroke="#555" stroke-width="0.8" />
<circle cx="570.05" cy="731.10" r="0.95" fill="#111"/>
<circle cx="569.70" cy="739.59" r="0.95" fill="#111"/>
<circle cx="570.01" cy="740.54" r="0.95" fill="#111"/>
<line x1="554.80" y1="783.40" x2="554.80" y2="784.80" stroke="#444" stroke-width="0.7" />
<rect x="586.20" y="758.10" width="5.40" height="20.30" fill="#3f8cf5" stroke="#4a4a4a" stroke-width="0.75"/>
<rect x="592.32" y="731.80" width="5.40" height="46.60" fill="#f5474d" stroke="#4a4a4a" stroke-width="0.75"/>
<rect x="598.44" y="759.30" width="5.40" height="19.10" fill="url(#pbrb)" stroke="#8c8c8c" stroke-width="0.75"/>
<rect x="604.56" y="740.60" width="5.40" height="37.80" fill="url(#prrb)" stroke="#8c8c8c" stroke-width="0.75"/>
<rect x="610.68" y="759.60" width="5.40" height="18.80" fill="url(#bwrb)" stroke="#555555" stroke-width="0.75"/>
<rect x="616.80" y="740.30" width="5.40" height="38.10" fill="url(#rwrb)" stroke="#555555" stroke-width="0.75"/>
<line x1="588.90" y1="758.10" x2="588.90" y2="753.70" stroke="#8a8a8a" stroke-width="0.9" />
<line x1="588.20" y1="753.70" x2="589.60" y2="753.70" stroke="#555" stroke-width="0.8" />
<circle cx="589.14" cy="753.70" r="0.95" fill="#111"/>
<circle cx="589.17" cy="759.93" r="0.95" fill="#111"/>
<circle cx="589.20" cy="761.97" r="0.95" fill="#111"/>
<line x1="595.02" y1="731.80" x2="595.02" y2="724.50" stroke="#8a8a8a" stroke-width="0.9" />
<line x1="594.32" y1="724.50" x2="595.72" y2="724.50" stroke="#555" stroke-width="0.8" />
<circle cx="595.13" cy="724.50" r="0.95" fill="#111"/>
<circle cx="595.03" cy="733.27" r="0.95" fill="#111"/>
<circle cx="595.07" cy="737.47" r="0.95" fill="#111"/>
<line x1="601.14" y1="759.30" x2="601.14" y2="758.00" stroke="#8a8a8a" stroke-width="0.9" />
<line x1="600.44" y1="758.00" x2="601.84" y2="758.00" stroke="#555" stroke-width="0.8" />
<circle cx="601.01" cy="758.00" r="0.95" fill="#111"/>
<circle cx="601.37" cy="759.77" r="0.95" fill="#111"/>
<circle cx="601.22" cy="760.37" r="0.95" fill="#111"/>
<line x1="607.26" y1="740.60" x2="607.26" y2="735.80" stroke="#8a8a8a" stroke-width="0.9" />
<line x1="606.56" y1="735.80" x2="607.96" y2="735.80" stroke="#555" stroke-width="0.8" />
<circle cx="607.45" cy="735.80" r="0.95" fill="#111"/>
<circle cx="607.48" cy="742.14" r="0.95" fill="#111"/>
<circle cx="607.12" cy="745.26" r="0.95" fill="#111"/>
<line x1="613.38" y1="759.60" x2="613.38" y2="757.50" stroke="#8a8a8a" stroke-width="0.9" />
<line x1="612.68" y1="757.50" x2="614.08" y2="757.50" stroke="#555" stroke-width="0.8" />
<circle cx="613.55" cy="757.50" r="0.95" fill="#111"/>
<circle cx="613.33" cy="760.23" r="0.95" fill="#111"/>
<circle cx="613.56" cy="761.59" r="0.95" fill="#111"/>
<line x1="619.50" y1="740.30" x2="619.50" y2="737.70" stroke="#8a8a8a" stroke-width="0.9" />
<line x1="618.80" y1="737.70" x2="620.20" y2="737.70" stroke="#555" stroke-width="0.8" />
<circle cx="619.39" cy="737.70" r="0.95" fill="#111"/>
<circle cx="619.36" cy="741.26" r="0.95" fill="#111"/>
<circle cx="619.47" cy="742.77" r="0.95" fill="#111"/>
<line x1="604.40" y1="783.40" x2="604.40" y2="784.80" stroke="#444" stroke-width="0.7" />
<path d="M494.00,675.40 V670.40 H520.40 V690.60" fill="none" stroke="#333" stroke-width="0.85" />
<line x1="488.10" y1="675.40" x2="500.20" y2="675.40" stroke="#333" stroke-width="0.85" />
<line x1="514.50" y1="690.60" x2="526.20" y2="690.60" stroke="#333" stroke-width="0.85" />
<text x="506.10" y="668.60" font-size="8.6" text-anchor="middle" textLength="8.70" lengthAdjust="spacingAndGlyphs" fill="#444" >ns</text>
<path d="M494.00,688.50 V683.50 H507.30 V689.90" fill="none" stroke="#333" stroke-width="0.85" />
<line x1="488.10" y1="688.50" x2="500.20" y2="688.50" stroke="#333" stroke-width="0.85" />
<line x1="501.60" y1="689.90" x2="512.80" y2="689.90" stroke="#333" stroke-width="0.85" />
<text x="500.70" y="682.40" font-size="8.6" text-anchor="middle" textLength="8.70" lengthAdjust="spacingAndGlyphs" fill="#444" >ns</text>
<path d="M544.30,709.20 V704.10 H570.90 V723.80" fill="none" stroke="#333" stroke-width="0.85" />
<line x1="539.00" y1="709.20" x2="550.40" y2="709.20" stroke="#333" stroke-width="0.85" />
<line x1="565.00" y1="723.80" x2="576.70" y2="723.80" stroke="#333" stroke-width="0.85" />
<text x="557.00" y="702.80" font-size="8.6" text-anchor="middle" textLength="8.70" lengthAdjust="spacingAndGlyphs" fill="#444" >ns</text>
<path d="M544.30,722.30 V717.40 H557.40 V723.40" fill="none" stroke="#333" stroke-width="0.85" />
<line x1="539.00" y1="722.30" x2="550.40" y2="722.30" stroke="#333" stroke-width="0.85" />
<line x1="551.90" y1="723.40" x2="563.30" y2="723.40" stroke="#333" stroke-width="0.85" />
<text x="551.20" y="716.20" font-size="8.6" text-anchor="middle" textLength="8.70" lengthAdjust="spacingAndGlyphs" fill="#444" >ns</text>
<path d="M594.20,704.10 V699.00 H620.80 V718.70" fill="none" stroke="#333" stroke-width="0.85" />
<line x1="589.10" y1="704.10" x2="600.80" y2="704.10" stroke="#333" stroke-width="0.85" />
<line x1="615.40" y1="718.70" x2="626.60" y2="718.70" stroke="#333" stroke-width="0.85" />
<text x="607.10" y="697.60" font-size="8.6" text-anchor="middle" textLength="8.70" lengthAdjust="spacingAndGlyphs" fill="#444" >ns</text>
<path d="M594.20,717.50 V712.40 H607.10 V718.20" fill="none" stroke="#333" stroke-width="0.85" />
<line x1="589.10" y1="717.50" x2="600.80" y2="717.50" stroke="#333" stroke-width="0.85" />
<line x1="601.80" y1="718.20" x2="613.50" y2="718.20" stroke="#333" stroke-width="0.85" />
<text x="601.50" y="711.00" font-size="8.6" text-anchor="middle" textLength="8.70" lengthAdjust="spacingAndGlyphs" fill="#444" >ns</text>
<text x="0" y="0" font-size="6.9" textLength="13.30" lengthAdjust="spacingAndGlyphs" fill="#222" transform="translate(493.10 789.67) rotate(45)">MYB</text>
<text x="0" y="0" font-size="6.9" textLength="23.50" lengthAdjust="spacingAndGlyphs" fill="#222" transform="translate(548.30 789.67) rotate(45)">STK17A</text>
<text x="0" y="0" font-size="6.9" textLength="18.00" lengthAdjust="spacingAndGlyphs" fill="#222" transform="translate(604.80 789.67) rotate(45)">IGF1R</text>
<text x="150.50" y="828.30" font-size="13.9" textLength="184.60" lengthAdjust="spacingAndGlyphs" class="t" >T47D A3B**-hUGI inducible cells:</text>
<rect x="345.00" y="816.10" width="14.60" height="5.2" fill="#3f8cf5" stroke="#555555" stroke-width="0.8"/>
<text x="362.80" y="821.50" font-size="8.4" textLength="49.90" lengthAdjust="spacingAndGlyphs" fill="#333" >siNT + DMSO</text>
<rect x="345.00" y="826.90" width="14.60" height="5.2" fill="url(#lnavy)" stroke="#555555" stroke-width="0.8"/>
<text x="362.80" y="832.30" font-size="8.4" textLength="37.20" lengthAdjust="spacingAndGlyphs" fill="#333" >siNT + E2</text>
<rect x="432.40" y="816.10" width="13.20" height="5.2" fill="url(#lpb)" stroke="#555555" stroke-width="0.8"/>
<text x="449.00" y="821.50" font-size="8.4" textLength="43.70" lengthAdjust="spacingAndGlyphs" fill="#333" >siNT + DOX</text>
<rect x="432.40" y="826.90" width="13.20" height="5.2" fill="url(#lpr)" stroke="#555555" stroke-width="0.8"/>
<text x="449.00" y="832.30" font-size="8.4" textLength="63.00" lengthAdjust="spacingAndGlyphs" fill="#333" >siNT + DOX + E2</text>
<rect x="541.20" y="816.10" width="13.20" height="5.2" fill="url(#lbw)" stroke="#555555" stroke-width="0.8"/>
<text x="555.80" y="821.50" font-size="8.4" textLength="56.10" lengthAdjust="spacingAndGlyphs" fill="#333" >siA3B + DMSO</text>
<rect x="541.20" y="826.90" width="13.20" height="5.2" fill="url(#lrw)" stroke="#555555" stroke-width="0.8"/>
<text x="555.80" y="832.30" font-size="8.4" textLength="40.00" lengthAdjust="spacingAndGlyphs" fill="#333" >siA3B + E2</text>
</svg>
</body></html>
